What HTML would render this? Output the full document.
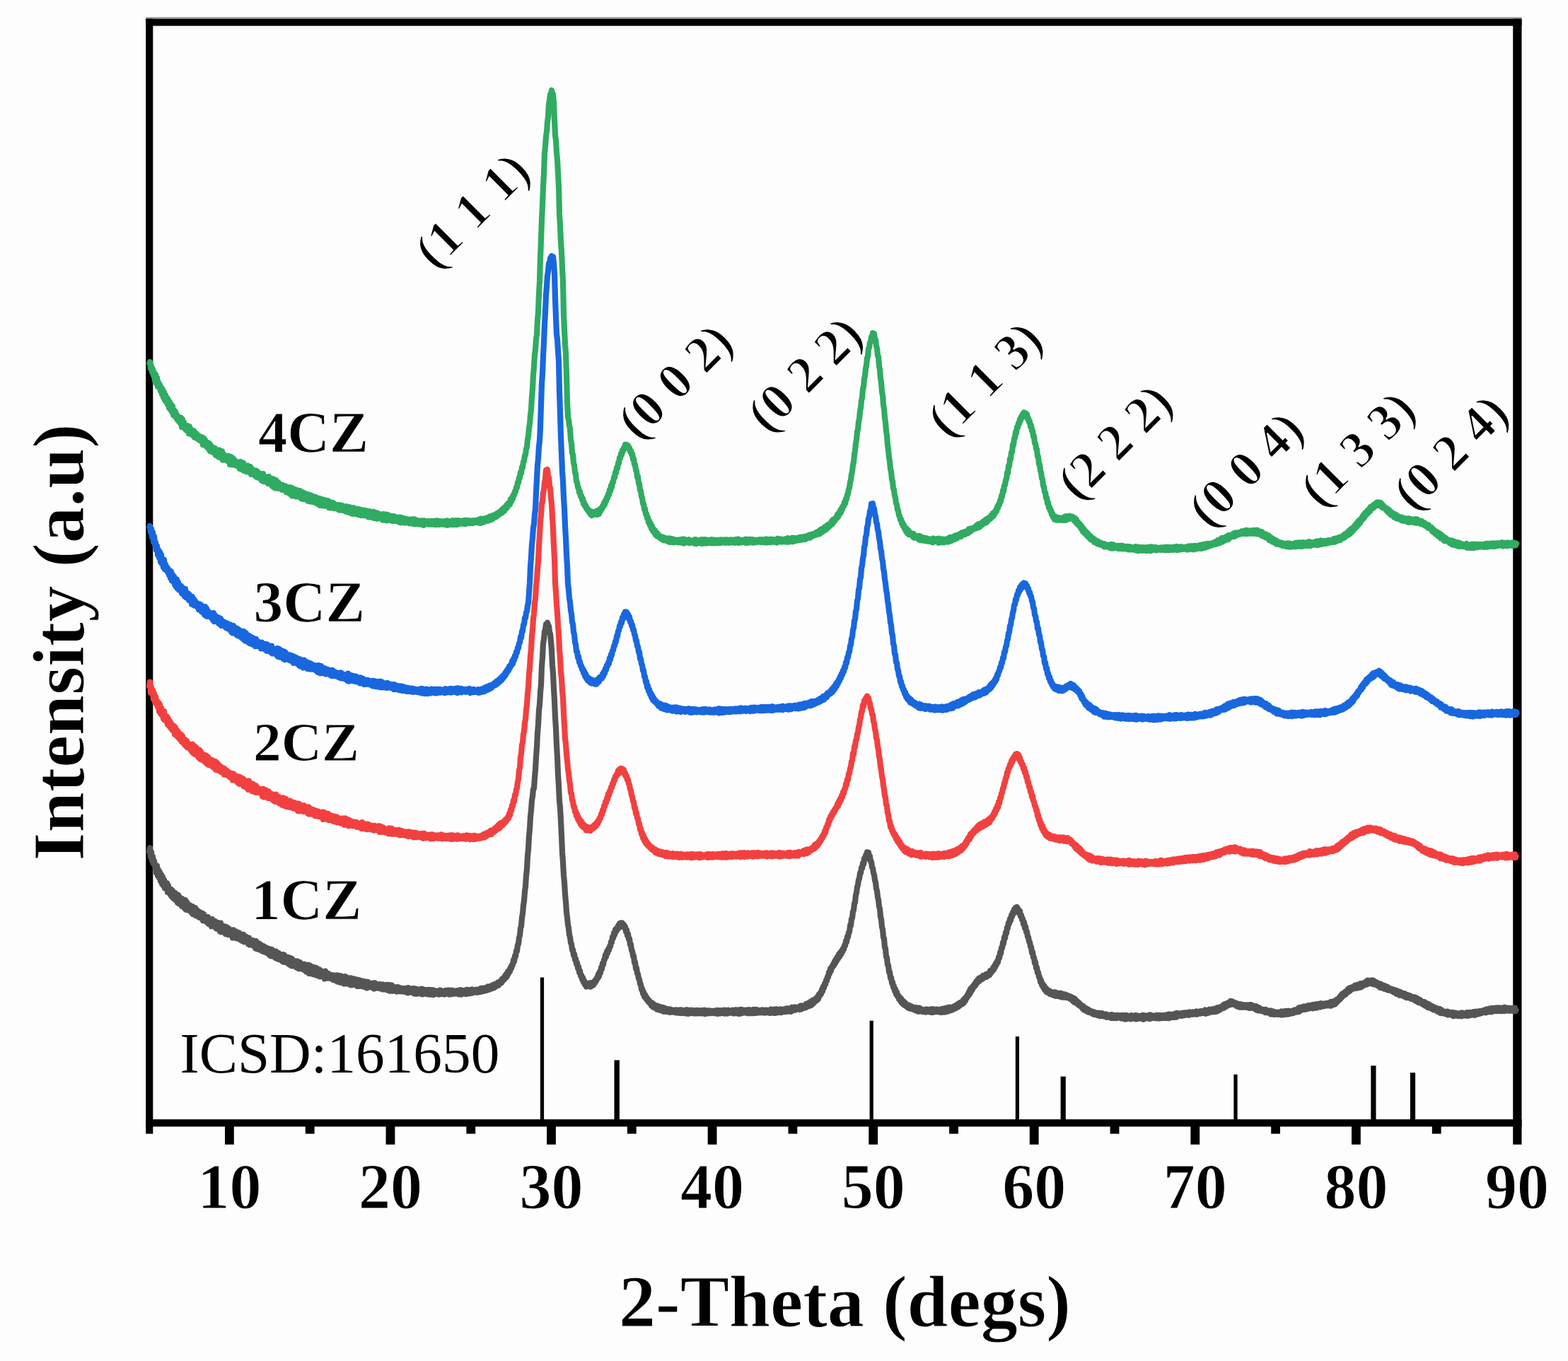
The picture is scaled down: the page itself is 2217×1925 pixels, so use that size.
<!DOCTYPE html>
<html lang="en"><head><meta charset="utf-8"><title>XRD patterns of 1CZ-4CZ</title>
<style>html,body{margin:0;padding:0;background:#fdfdfd;overflow:hidden;}svg{display:block}text{font-family:"Liberation Serif",serif;fill:#000}.b{font-weight:bold;stroke:#fdfdfd;stroke-width:1px}.p{stroke-width:1.8px}</style></head><body>
<svg width="2217" height="1925" viewBox="0 0 2217 1925">
<rect x="0" y="0" width="2217" height="1925" fill="#fdfdfd"/>
<g id="frame"><rect x="206.2" y="24.2" width="1945.3" height="2.4" fill="#9b9ba6"/><rect x="206.2" y="26.6" width="1945.3" height="10.0" fill="#000"/><rect x="206.2" y="26.6" width="10.1" height="1577.0" fill="#000"/><rect x="2139.2" y="26.6" width="12.3" height="1592.2" fill="#000"/><rect x="206.2" y="1583.2" width="1945.3" height="10.3" fill="#000"/><rect x="318.0" y="1592.5" width="12.8" height="26.3" fill="#000"/><rect x="545.6" y="1592.5" width="12.8" height="26.3" fill="#000"/><rect x="773.1" y="1592.5" width="12.8" height="26.3" fill="#000"/><rect x="1000.7" y="1592.5" width="12.8" height="26.3" fill="#000"/><rect x="1228.3" y="1592.5" width="12.8" height="26.3" fill="#000"/><rect x="1455.8" y="1592.5" width="12.8" height="26.3" fill="#000"/><rect x="1683.4" y="1592.5" width="12.8" height="26.3" fill="#000"/><rect x="1911.0" y="1592.5" width="12.8" height="26.3" fill="#000"/><rect x="431.8" y="1592.5" width="12.8" height="11.1" fill="#000"/><rect x="659.4" y="1592.5" width="12.8" height="11.1" fill="#000"/><rect x="886.9" y="1592.5" width="12.8" height="11.1" fill="#000"/><rect x="1114.5" y="1592.5" width="12.8" height="11.1" fill="#000"/><rect x="1342.1" y="1592.5" width="12.8" height="11.1" fill="#000"/><rect x="1569.6" y="1592.5" width="12.8" height="11.1" fill="#000"/><rect x="1797.2" y="1592.5" width="12.8" height="11.1" fill="#000"/><rect x="2024.8" y="1592.5" width="12.8" height="11.1" fill="#000"/></g>
<g id="ref"><rect x="763.9" y="1382.5" width="5.2" height="201.7" fill="#000"/><rect x="868.5" y="1499.5" width="7.4" height="84.7" fill="#000"/><rect x="1229.6" y="1443.7" width="5.2" height="140.5" fill="#000"/><rect x="1435.8" y="1466" width="5.2" height="118.2" fill="#000"/><rect x="1499.6" y="1522.6" width="7.2" height="61.6" fill="#000"/><rect x="1744.4" y="1519.7" width="5.2" height="64.5" fill="#000"/><rect x="1938.3" y="1507.3" width="7.2" height="76.9" fill="#000"/><rect x="1993.9" y="1517.2" width="7.2" height="67.0" fill="#000"/></g>
<g id="curves">
<path d="M211.0 1207.3l1 -7.9l1 12.9l1 -7.2l1 12.6l1 -6.1l1 10.1l1 -4.3l1 8.3l1 -2.4l1 11.4l1 -10.2l1 14.1l1 -8.3l1 11l1 -7.7l1 12.7l1 -9.1l1 13l1 -9.9l1 12.4l1 -8.5l1 11.9l1 -6.6l1 7.4l1 -7.9l1 12.9l1 -9.4l1 10.3l1 -5.7l1 8.5l1 -7.9l1 10.6l1 -8.5l1 10.5l1 -8.1l1 9.8l1 -8.8l1 10.2l1 -8l1 11.2l1 -10.7l1 12.3l1 -9.1l1 9.6l1 -8.5l1 11.4l1 -9.9l1 9.6l1 -7.2l1 10.4l1 -11.3l1 13.4l1 -10.7l1 11.3l1 -8.1l1 8.2l1 -7.3l1 8.7l1 -7.3l1 9.5l1 -8.8l1 11.1l1 -9.5l1 9.9l1 -9.4l1 11l1 -8.3l1 8.2l1 -6.9l1 8.8l1 -7.3l1 8.3l1 -6.1l1 6.8l1 -7.2l1 10.7l1 -9.1l1 8.5l1 -5.2l1 6.7l1 -6l1 7.7l1 -7.8l1 9.9l1 -6.5l1 5.5l1 -4.8l1 9.1l1 -10.1l1 8.7l1 -5.7l1 6.9l1 -7.2l1 9.7l1 -8.2l1 9.4l1 -8.7l1 8.3l1 -5.6l1 9.7l1 -11.8l1 12.8l1 -8.9l1 8l1 -7.5l1 8.2l1 -7.9l1 10.9l1 -10l1 10l1 -8.6l1 9.6l1 -8.4l1 8l1 -5.4l1 6.2l1 -5.9l1 9.8l1 -11.1l1 9.8l1 -7.7l1 9.2l1 -9.1l1 9.5l1 -8l1 8.7l1 -8.4l1 7.8l1 -5.1l1 7.8l1 -8.2l1 9.3l1 -9.2l1 10.4l1 -8.4l1 8.4l1 -7.4l1 7.5l1 -5.1l1 7.8l1 -8.4l1 9.9l1 -7.3l1 5.8l1 -4.9l1 6.8l1 -6.6l1 7.4l1 -4.9l1 8.3l1 -10l1 11l1 -8.3l1 8l1 -7.4l1 9l1 -7.9l1 7.1l1 -4.6l1 7.4l1 -7.5l1 8.2l1 -7l1 6.9l1 -5.8l1 7.4l1 -6.5l1 7.3l1 -6.5l1 8.8l1 -8.4l1 9.8l1 -9.2l1 9.6l1 -7.9l1 7.9l1 -6.5l1 8.5l1 -8.9l1 10.1l1 -8.2l1 8.9l1 -8.4l1 9.2l1 -7.5l1 7.9l1 -6.7l1 8.4l1 -9.2l1 10.6l1 -9.8l1 10l1 -6.7l1 6.5l1 -6.9l1 8.4l1 -8.1l1 10.1l1 -9.4l1 10.5l1 -9.6l1 10.6l1 -8.8l1 8.2l1 -6.7l1 7l1 -6.1l1 8.4l1 -8.9l1 9.7l1 -8.5l1 9.6l1 -9.2l1 9.2l1 -6.9l1 6.5l1 -5.4l1 7.1l1 -7.9l1 8.8l1 -8.2l1 10.1l1 -9.3l1 9.6l1 -9.8l1 12.1l1 -11.2l1 9l1 -6.5l1 9.2l1 -9.8l1 10.6l1 -9.6l1 9.7l1 -9.6l1 10.7l1 -9.9l1 9.7l1 -7.3l1 8.8l1 -9.2l1 9.8l1 -8.1l1 7.5l1 -6.3l1 6.8l1 -6l1 9.3l1 -11l1 9.1l1 -6.1l1 7l1 -6.7l1 6.6l1 -4.9l1 5.3l1 -5l1 5.2l1 -4l1 5.9l1 -6.4l1 6.8l1 -5.8l1 6.3l1 -7.3l1 9l1 -9l1 7l1 -4.5l1 7.6l1 -9.3l1 9.1l1 -7.7l1 8.9l1 -9l1 9.9l1 -10.4l1 9.5l1 -8.4l1 9.1l1 -8.2l1 8.3l1 -7.3l1 8.7l1 -9.5l1 10l1 -8.7l1 8.4l1 -8.7l1 8.1l1 -5.4l1 5.6l1 -7.2l1 9.5l1 -8.8l1 8.9l1 -8.8l1 8.3l1 -7.1l1 7.4l1 -7.5l1 7.7l1 -7.2l1 8l1 -7.5l1 8l1 -7.2l1 8.4l1 -8.8l1 7.1l1 -5.1l1 5.1l1 -4.9l1 5.4l1 -5.6l1 6.4l1 -5.9l1 7.3l1 -8.3l1 6.6l1 -4.2l1 4.4l1 -4.6l1 5.3l1 -5.6l1 5.8l1 -5.6l1 6.2l1 -5.4l1 6.2l1 -6.8l1 6.8l1 -5.1l1 4.4l1 -5.5l1 7.2l1 -7.4l1 7l1 -5.4l1 7.2l1 -8.5l1 8.3l1 -7.9l1 8.1l1 -5.9l1 5.4l1 -4.9l1 4.7l1 -4.4l1 5.9l1 -6.4l1 6l1 -5.6l1 5.6l1 -4.4l1 4.3l1 -4l1 4.4l1 -4.3l1 4.4l1 -4.4l1 4.6l1 -4.6l1 5.5l1 -6.3l1 7l1 -7.1l1 6.6l1 -5.3l1 4.5l1 -3.2l1 3.3l1 -5l1 7l1 -6.9l1 7.4l1 -6.9l1 7.1l1 -6.8l1 5.9l1 -4.8l1 4.9l1 -4.5l1 4.1l1 -5.9l1 7.7l1 -7.4l1 5.8l1 -4.5l1 5.2l1 -5.4l1 5.3l1 -5.2l1 6.2l1 -6.4l1 6.5l1 -6.4l1 6.6l1 -6.5l1 6.4l1 -6.4l1 6.8l1 -6.1l1 5.5l1 -4.8l1 3.9l1 -3.8l1 3.7l1 -3.7l1 4.9l1 -6l1 5.4l1 -5l1 5.1l1 -4.2l1 3l1 -2.9l1 4.6l1 -5.6l1 4.3l1 -3.3l1 3l1 -4.6l1 6.2l1 -5.7l1 5.3l1 -5.5l1 5.5l1 -5.3l1 4.6l1 -4l1 4l1 -3.2l1 2.5l1 -3.6l1 4.5l1 -4.1l1 4.8l1 -6l1 6l1 -6.2l1 6.4l1 -5.3l1 3.8l1 -4l1 3.7l1 -3.7l1 4.9l1 -6.1l1 5.7l1 -5.5l1 5.1l1 -5.1l1 5l1 -5.2l1 4.8l1 -5.2l1 4.7l1 -4l1 3.2l1 -3.1l1 2.7l1 -3.3l1 4.1l1 -3.9l1 2.4l1 -2.8l1 3.6l1 -5.3l1 4.7l1 -4.8l1 4.3l1 -4.3l1 3.8l1 -4l1 3.5l1 -4l1 3.6l1 -5.3l1 4.6l1 -4.3l1 3.5l1 -4l1 3.3l1 -4.8l1 4.2l1 -4.9l1 4l1 -5.1l1 3.7l1 -3.9l1 2.6l1 -4.6l1 4l1 -4.5l1 2l1 -3.9l1 3.1l1 -5.7l1 2.9l1 -4.2l1 2.2l1 -5.3l1 3l1 -5.6l1 3.4l1 -6.6l1 2.8l1 -5.3l1 2.1l1 -5.8l1 1.5l1 -5.2l1 0.1l1 -6.7l1 2.2l1 -7.9l1 0.7l1 -7.9l1 0.2l1 -8.9l1 -1l1 -9.1l1 -3l1 -10.4l1 -2.6l1 -12.4l1 -5.5l1 -11.7l1 -6.4l1 -12.8l1 -7.5l1 -15.6l1 -8.8l1 -18.6l1 -9.4l1 -18.4l1 -10.4l1 -17.9l1 -8.8l1 -13.9l1 -5.6l1 -10.4l1 -0.9l1 -15l1 -11.6l1 -17.6l1 -14.2l1 -19.9l1 -11.9l1 -20.2l1 -8.1l1 -17l1 -10.8l1 -26.2l1 -13l1 -19.4l1 -6.2l1 -10.6l1 -2.7l1 -7.7l1 0.7l1 -3.1l1 4.5l1 0.3l1 8.8l1 2.1l1 11.3l1 12l1 21.3l1 11.6l1 21.6l1 16.8l1 23.3l1 15.9l1 23.9l1 16.5l1 25l1 15.8l1 22.2l1 8.7l1 19l1 20.7l1 23.7l1 13.6l1 18.5l1 10.1l1 16.8l1 10.7l1 14.6l1 7.9l1 10.3l1 4.5l1 9.6l1 3.1l1 8.1l1 1.8l1 8l1 -0.4l1 8.1l1 -1.5l1 7.7l1 -1.3l1 7.3l1 -1.9l1 8l1 -2.1l1 8l1 -2.2l1 7.2l1 -1l1 5.8l1 -2.4l1 6.6l1 -2.5l1 5.9l1 -2.7l1 5.6l1 -4.4l1 3.7l1 -3l1 2.8l1 -4.2l1 5.3l1 -5.6l1 4.4l1 -4.7l1 3.7l1 -5.2l1 2.4l1 -4.6l1 1.5l1 -4.9l1 1.3l1 -6l1 3l1 -6.7l1 1.8l1 -7.5l1 1.8l1 -7.8l1 1.6l1 -6.7l1 -0.3l1 -6.6l1 2.6l1 -7.4l1 2.5l1 -5.7l1 1.4l1 -5.4l1 0.1l1 -6.5l1 0.8l1 -7.7l1 1.9l1 -7.5l1 2.7l1 -7.4l1 3.1l1 -5.2l1 2.1l1 -5.5l1 3.2l1 -6.2l1 5l1 -6.2l1 4.2l1 -4l1 3.6l1 -1.5l1 4.5l1 -1.5l1 7.2l1 -2.7l1 7.8l1 -2l1 7.4l1 -0.7l1 8.3l1 -0.1l1 8.5l1 0.6l1 7.4l1 -0.3l1 9.3l1 -0.6l1 9.2l1 -1l1 7.8l1 1l1 6.4l1 0.9l1 6.6l1 0.6l1 7.1l1 -1l1 6.8l1 -2.3l1 6.5l1 -2.7l1 5.5l1 -2.1l1 4.7l1 -1.9l1 4.4l1 -1.9l1 3.8l1 -1.8l1 4.8l1 -3.9l1 5.8l1 -4.1l1 5.1l1 -3.6l1 4.3l1 -2.9l1 4.8l1 -4.9l1 5.3l1 -4.5l1 5.1l1 -3.7l1 4.2l1 -4.4l1 5.3l1 -4.9l1 5.7l1 -5.1l1 4.8l1 -3.6l1 4.1l1 -3.2l1 2.6l1 -3.1l1 4.6l1 -4.3l1 4l1 -3.2l1 3l1 -2.7l1 3.1l1 -3l1 2.8l1 -3.2l1 4.2l1 -4l1 3.1l1 -2.3l1 3.5l1 -4.6l1 4.8l1 -4.5l1 4.2l1 -3.7l1 3.2l1 -3.2l1 4.3l1 -5.1l1 5.1l1 -5.1l1 5.6l1 -4.9l1 3.6l1 -3.7l1 4.2l1 -4.4l1 3.9l1 -2.9l1 3.6l1 -4.1l1 4l1 -3.7l1 3.8l1 -4.4l1 4.5l1 -4.2l1 3.6l1 -3l1 3.5l1 -4.2l1 4.3l1 -3.3l1 2.6l1 -3.9l1 5.3l1 -5l1 4.2l1 -3.4l1 3.5l1 -4.1l1 3.8l1 -3.5l1 3.5l1 -3.2l1 2.8l1 -2.8l1 3.2l1 -3.5l1 3.5l1 -3.4l1 3.7l1 -4.5l1 5l1 -4.8l1 4.5l1 -4.3l1 3.9l1 -3.9l1 3.6l1 -3l1 2.9l1 -4l1 4.9l1 -4.9l1 4.4l1 -4.1l1 4.4l1 -4.8l1 4l1 -2.9l1 2.7l1 -2.8l1 2.6l1 -3.6l1 4.6l1 -4.1l1 4.1l1 -5l1 4.8l1 -4.5l1 4.8l1 -5l1 5.5l1 -5.4l1 5.2l1 -5.9l1 5.3l1 -4.9l1 4.1l1 -2.8l1 2.9l1 -3.6l1 3.6l1 -3.6l1 4.4l1 -4.9l1 5l1 -5.1l1 4.9l1 -4.3l1 4.4l1 -4.8l1 4.8l1 -5.2l1 4.9l1 -4.5l1 4.4l1 -4.8l1 4.5l1 -3.7l1 3.6l1 -3.1l1 2.8l1 -3.2l1 3.3l1 -3.7l1 3.4l1 -3.1l1 3.8l1 -3.9l1 3.7l1 -3.6l1 3.3l1 -3.1l1 2.7l1 -2.8l1 4l1 -5.3l1 4.7l1 -3.8l1 3.9l1 -4.7l1 5.2l1 -5l1 4.9l1 -5.6l1 4.8l1 -4l1 4l1 -4l1 3.8l1 -4.4l1 4.8l1 -4.3l1 2.6l1 -2.7l1 3l1 -3.5l1 3.8l1 -4.6l1 4.2l1 -4.4l1 4.3l1 -3.9l1 2.6l1 -2.6l1 4l1 -6l1 4.1l1 -3.2l1 3.2l1 -4.3l1 4l1 -3.6l1 2.8l1 -3l1 2.5l1 -3.1l1 3.8l1 -5.2l1 4.8l1 -5l1 4.1l1 -4l1 2.3l1 -3l1 3.4l1 -5.4l1 4.5l1 -5.1l1 4l1 -5.2l1 4.7l1 -5.9l1 5l1 -6l1 4.5l1 -6l1 3.8l1 -4.2l1 2.3l1 -4.5l1 3.1l1 -5.3l1 3.4l1 -6.7l1 2.6l1 -4.7l1 1.8l1 -6.3l1 2.4l1 -6.6l1 1.9l1 -5.9l1 1.2l1 -6l1 0.2l1 -5.3l1 0.5l1 -6.7l1 1.9l1 -7.2l1 3.1l1 -5.8l1 0.9l1 -4.4l1 1.9l1 -5.8l1 2.5l1 -5.9l1 2.6l1 -5.7l1 2.5l1 -6l1 3.6l1 -6.3l1 3l1 -5.4l1 1.9l1 -5.2l1 1.3l1 -5.7l1 0.5l1 -6.7l1 1.4l1 -7.5l1 0.6l1 -6.9l1 -0.3l1 -9.4l1 0.2l1 -9.8l1 -1l1 -8.9l1 -2.4l1 -8.8l1 -2l1 -10.2l1 -3.1l1 -8.4l1 -2.6l1 -7.4l1 -1.9l1 -7.7l1 -0.1l1 -7.3l1 0.8l1 -7.5l1 1.9l1 -8.4l1 1.8l1 -6.3l1 0l1 -4.5l1 3l1 -2.6l1 5.3l1 0.1l1 7l1 0.7l1 7.9l1 1.1l1 7.2l1 2l1 8l1 2.8l1 8.9l1 3.2l1 9.1l1 3.7l1 9.5l1 3.2l1 11.2l1 3.8l1 10.9l1 3.1l1 11.5l1 1.6l1 12.5l1 1.5l1 11.8l1 1.4l1 9.9l1 0.5l1 9.8l1 -0.2l1 8.4l1 -0.5l1 7.5l1 -1l1 7l1 -1.5l1 6.7l1 -2.3l1 7.3l1 -3.1l1 5.9l1 -1.4l1 5.4l1 -3l1 5.4l1 -3.5l1 6.3l1 -3.7l1 5.8l1 -3.6l1 4.9l1 -3.3l1 4.6l1 -2.5l1 4l1 -3.1l1 4.4l1 -3.9l1 4.7l1 -3.6l1 3.5l1 -2.4l1 3.5l1 -3l1 3.6l1 -3l1 4l1 -4.1l1 4.9l1 -3.9l1 4.7l1 -5.2l1 4.4l1 -2.1l1 2.5l1 -2.8l1 3.5l1 -3l1 2.7l1 -2.5l1 3.3l1 -4.1l1 3.3l1 -2.8l1 3l1 -3.1l1 3.4l1 -3.6l1 4l1 -4.5l1 4.7l1 -4.6l1 3.9l1 -3.3l1 3.2l1 -3.3l1 3.1l1 -3.2l1 3.5l1 -3.1l1 3.5l1 -3.8l1 4.1l1 -5.1l1 4.9l1 -5.1l1 4.6l1 -4.8l1 5.1l1 -5.8l1 5.1l1 -5.3l1 5.1l1 -6l1 5l1 -4.5l1 3.8l1 -4.3l1 3.6l1 -4.4l1 3.3l1 -4.3l1 3.4l1 -4.3l1 3.1l1 -4.5l1 3.6l1 -5l1 3.5l1 -4.8l1 2.9l1 -3.6l1 2.9l1 -5.7l1 4.1l1 -6l1 3.2l1 -5.2l1 1.4l1 -4.9l1 1.9l1 -5.9l1 3.6l1 -7.5l1 4.1l1 -6.2l1 2.8l1 -5l1 1.5l1 -4.2l1 2.3l1 -5.7l1 2.5l1 -4.7l1 2.5l1 -5l1 3.7l1 -4.6l1 2.4l1 -3.5l1 3l1 -5.1l1 3.5l1 -3.7l1 2.5l1 -3.9l1 3.5l1 -3.9l1 2l1 -3.3l1 2.9l1 -6.2l1 3.3l1 -4.2l1 1.6l1 -4.8l1 2.8l1 -5.8l1 2.3l1 -5.7l1 1.9l1 -5.2l1 1.6l1 -7.2l1 1.4l1 -8l1 1.9l1 -8.5l1 0l1 -7.5l1 1.4l1 -8.9l1 1.6l1 -8.4l1 1.3l1 -8.2l1 0.2l1 -7l1 1.4l1 -6.8l1 2.3l1 -7.3l1 1.9l1 -6.2l1 2.1l1 -6l1 3.4l1 -6.1l1 4.2l1 -5l1 4.6l1 -1.4l1 5.2l1 -3l1 7.5l1 -1.6l1 6.4l1 -1.4l1 7.7l1 -2.7l1 8.3l1 -2.4l1 7.7l1 -0.2l1 7.2l1 0.5l1 6.5l1 0.5l1 6.6l1 0.4l1 8l1 -0.9l1 7.8l1 0l1 7.6l1 -0.9l1 8.1l1 -0.8l1 7.3l1 -0.1l1 6.3l1 0l1 6.9l1 -2.4l1 6.8l1 -2l1 5.5l1 -3l1 6.1l1 -3l1 5.6l1 -3.6l1 5l1 -2.6l1 3.4l1 -3l1 4.5l1 -3.2l1 2.9l1 -2l1 3.6l1 -3.8l1 4.7l1 -4.9l1 5.5l1 -4.3l1 3.4l1 -3.1l1 4.4l1 -4.2l1 4.7l1 -5l1 5.5l1 -4.7l1 5.1l1 -3.8l1 2.9l1 -3.3l1 4.4l1 -3.7l1 3.6l1 -2.5l1 3.3l1 -2.7l1 3.9l1 -3l1 4.1l1 -3.2l1 5.1l1 -4.2l1 6.2l1 -4.9l1 5.2l1 -2.7l1 4.4l1 -2.8l1 4.5l1 -2.8l1 4l1 -1.9l1 3.6l1 -1.9l1 4.4l1 -3.7l1 5.4l1 -2.9l1 3.6l1 -3l1 4.4l1 -3.2l1 4.2l1 -3l1 3.4l1 -2.3l1 3.1l1 -2.3l1 3.5l1 -3l1 3.7l1 -3.1l1 3.2l1 -2.4l1 3.3l1 -2.9l1 3.3l1 -3.3l1 4.2l1 -3.7l1 3.8l1 -4l1 3.7l1 -2.2l1 3l1 -3l1 3l1 -3.2l1 4.4l1 -3.4l1 3l1 -2.7l1 3.2l1 -3.3l1 4.3l1 -4.8l1 4.7l1 -4l1 4.3l1 -3.8l1 3.4l1 -3.3l1 3.7l1 -4.3l1 3.6l1 -2.4l1 2.4l1 -3.2l1 4.1l1 -4l1 4.3l1 -4.6l1 3.8l1 -2.6l1 4.3l1 -5.6l1 5.4l1 -5l1 4.5l1 -3.4l1 2.7l1 -2.5l1 3.7l1 -5.2l1 4.4l1 -3.5l1 3.4l1 -3.6l1 4.2l1 -5l1 5.4l1 -4.8l1 4.3l1 -4l1 3.5l1 -2.9l1 3l1 -3.6l1 4.1l1 -5.2l1 6l1 -5.4l1 4.2l1 -4.1l1 3.3l1 -2.6l1 2.8l1 -3.9l1 4.7l1 -5.3l1 5.3l1 -5.1l1 4l1 -2.8l1 2.9l1 -2.9l1 2.9l1 -3.4l1 3.8l1 -4.4l1 4.4l1 -4.3l1 4.6l1 -4.5l1 4l1 -3.8l1 3.9l1 -3.3l1 2.5l1 -3.4l1 4l1 -4l1 4.1l1 -4.7l1 4.5l1 -5l1 5.3l1 -5.6l1 4.9l1 -4.3l1 3.5l1 -3.7l1 4l1 -4.5l1 4.4l1 -5.1l1 5l1 -5.8l1 4.9l1 -4.3l1 3.3l1 -3.3l1 2.7l1 -2.8l1 3.4l1 -4.1l1 3.6l1 -3.7l1 3.4l1 -3.5l1 2.9l1 -3.1l1 3l1 -3.2l1 3.6l1 -4.3l1 3.7l1 -3.2l1 2.7l1 -2.9l1 3l1 -3.3l1 2.8l1 -2.6l1 3l1 -4.1l1 4l1 -3.3l1 2.4l1 -3l1 3l1 -3.3l1 2.8l1 -2.8l1 2.6l1 -2.9l1 2.6l1 -4.1l1 5.2l1 -4.3l1 2.8l1 -3.2l1 3.6l1 -4.9l1 4.1l1 -3.7l1 3.3l1 -4.1l1 3.9l1 -4l1 3.5l1 -4.1l1 4.4l1 -5.2l1 4.8l1 -5.5l1 4.4l1 -4.6l1 3.4l1 -4.1l1 2.7l1 -3.8l1 3.1l1 -4.7l1 4l1 -5.3l1 4.1l1 -4.6l1 3.2l1 -4.2l1 2.6l1 -3.5l1 3.6l1 -5.4l1 4.3l1 -4.1l1 4.4l1 -3.5l1 3.6l1 -2.6l1 3.7l1 -2.8l1 4.2l1 -3.8l1 4.6l1 -3.9l1 4.4l1 -4.2l1 4.4l1 -3.8l1 3.6l1 -3.3l1 3.3l1 -3.1l1 3.2l1 -3l1 3.3l1 -3.4l1 3.6l1 -3.7l1 4.5l1 -4.8l1 4.6l1 -4.2l1 4.2l1 -3.1l1 3.6l1 -3.1l1 4.2l1 -4.2l1 5.6l1 -4.4l1 5l1 -4.3l1 4.3l1 -2.6l1 3.1l1 -2.3l1 2.6l1 -2.1l1 3l1 -2.7l1 3.7l1 -4l1 3.8l1 -2.3l1 3l1 -2.4l1 2.8l1 -3.5l1 5.1l1 -4.7l1 4.6l1 -3.7l1 4l1 -3.7l1 3.8l1 -3.1l1 2.7l1 -2.7l1 3.1l1 -3.2l1 2.6l1 -2.4l1 3.5l1 -4.9l1 5.1l1 -4.1l1 3.1l1 -4.2l1 4.6l1 -5l1 4.6l1 -4.4l1 4.6l1 -5l1 4.5l1 -4l1 2.9l1 -3l1 3.3l1 -3.7l1 3.1l1 -4.1l1 3.2l1 -3.4l1 3l1 -3.6l1 2.5l1 -4.4l1 4.9l1 -5.9l1 3.7l1 -3l1 2.7l1 -4.2l1 3.6l1 -4.3l1 4.4l1 -4.3l1 3l1 -3.4l1 3.8l1 -4.8l1 4.2l1 -4.1l1 3.4l1 -4l1 4.4l1 -4.7l1 4.9l1 -5.4l1 4.8l1 -4.6l1 4.6l1 -5.5l1 4.8l1 -4.6l1 4l1 -4.8l1 4.8l1 -5.2l1 4.3l1 -3.8l1 3.6l1 -3.5l1 3.1l1 -3.4l1 2.8l1 -3.3l1 3.4l1 -3.5l1 3.1l1 -3.7l1 4.4l1 -5.7l1 5.4l1 -5l1 3.4l1 -4.7l1 4.6l1 -5.2l1 3.7l1 -5.2l1 3.1l1 -4.2l1 2l1 -4.5l1 2.9l1 -5.3l1 3.1l1 -5.4l1 2.9l1 -3.8l1 2.8l1 -4.7l1 3.1l1 -4.3l1 2.2l1 -4.8l1 3.8l1 -5.3l1 3.7l1 -4.3l1 2.6l1 -3.4l1 2.4l1 -3.1l1 2.2l1 -3.9l1 3.9l1 -4.1l1 4l1 -5l1 4.5l1 -4.8l1 4.4l1 -5.6l1 5.2l1 -4.9l1 3.2l1 -4.1l1 3.1l1 -3.7l1 3l1 -4.9l1 4.4l1 -5.8l1 4.6l1 -3.9l1 2.5l1 -2.8l1 4.2l1 -4.8l1 5.3l1 -4.9l1 5.5l1 -4l1 4.4l1 -3.5l1 4.4l1 -3.3l1 4.2l1 -3l1 4.9l1 -4.9l1 5.7l1 -4.5l1 4.5l1 -3.7l1 4.9l1 -4.2l1 4.6l1 -3.7l1 4.6l1 -3.7l1 4.6l1 -2.9l1 2.7l1 -2.2l1 3.2l1 -2.5l1 3.5l1 -2.9l1 4l1 -3.3l1 4l1 -3.4l1 5.1l1 -4.3l1 4.7l1 -3.7l1 5.1l1 -4.8l1 4.3l1 -2.2l1 3.2l1 -3.2l1 4.1l1 -3.8l1 4.9l1 -3.8l1 4.8l1 -4.3l1 4l1 -3.1l1 3.6l1 -3.1l1 4.2l1 -2.9l1 3l1 -2.4l1 3.8l1 -3.9l1 5.2l1 -4.3l1 5.1l1 -4.2l1 5.5l1 -4.1l1 4.9l1 -3.9l1 3.9l1 -2.2l1 4.1l1 -3.3l1 4.3l1 -4l1 5.4l1 -4.1l1 4.8l1 -3.7l1 5.6l1 -5.1l1 5.2l1 -3.6l1 4.6l1 -3.7l1 4.5l1 -3.4l1 4.7l1 -3.8l1 3.8l1 -2.6l1 3.9l1 -3.1l1 4.3l1 -4l1 4.9l1 -4.6l1 6.1l1 -4.9l1 4.4l1 -2.8l1 3.4l1 -2.5l1 3l1 -2.9l1 3.3l1 -3.5l1 4.7l1 -4.4l1 3.9l1 -2.8l1 3.2l1 -2.7l1 3l1 -3.7l1 5.3l1 -4.8l1 4.3l1 -4.1l1 4l1 -3.2l1 3.4l1 -3.3l1 3.5l1 -3.3l1 2.9l1 -4l1 4.7l1 -4.9l1 4.2l1 -3.2l1 2.9l1 -2.8l1 2.9l1 -4.2l1 4.6l1 -4.3l1 4.1l1 -4.7l1 3.5l1 -2.8l1 2.9l1 -3.8l1 3.7l1 -4.2l1 4.7l1 -4.9l1 4.2l1 -4.5l1 3.8l1 -3.6l1 3.3l1 -4l1 3.4l1 -3.7l1 2.9l1 -3.2l1 2.5l1 -3.1l1 2.5l1 -3l1 3.7l1 -4.8l1 4.3l1 -4.2l1 3.3l1 -4.2l1 4.6l1 -4.7l1 4.8l1 -5.4l1 4.5l1 -4.3l1 4.1l1 -3.3l1 2.5l1 -4l1 4.7l1 -4.6l1 4.3l1 -4.3l1 4.4l1 -4.2l1 4.5l1 -3.7l1 2.3l1 -3.5l1 4.8l1 -5.4l1 5.1l1 -4.2l1 3.7l1 -2.9l1 3l1 -3.7l1 4.1l1 -3.7l1 3.1l1 -3.3l1 3.7l1 -3.5l1 4.1l1 -4.7l1 4.4l1 -3.9" fill="none" stroke="#555555" stroke-width="8.2" stroke-linejoin="round" stroke-linecap="butt"/>
<path d="M211.0 972.9l1 -8.3l1 15.1l1 -7.6l1 9.4l1 -5.3l1 12.6l1 -8l1 11.8l1 -7.4l1 10.5l1 -4.5l1 8.4l1 -6.3l1 12.9l1 -9.8l1 13l1 -8.4l1 10.6l1 -6.2l1 11l1 -10.2l1 12.6l1 -6.4l1 7.3l1 -6.2l1 11.4l1 -8.4l1 10.2l1 -6.9l1 9.5l1 -6.6l1 9l1 -5l1 6.7l1 -6.7l1 11.9l1 -9.2l1 10.5l1 -7.3l1 9.4l1 -6.9l1 8.9l1 -6.3l1 8.5l1 -7.5l1 10.5l1 -7.9l1 9.3l1 -5.8l1 8.5l1 -6.9l1 9l1 -7.5l1 9.3l1 -5.8l1 5.6l1 -4.2l1 7.2l1 -6.6l1 9.3l1 -10.2l1 12.5l1 -10.1l1 11.7l1 -10.2l1 10.9l1 -9.2l1 10.4l1 -8l1 11l1 -10.7l1 12.9l1 -10.6l1 11.6l1 -8.2l1 7l1 -5.4l1 8.7l1 -8.8l1 10.6l1 -9.6l1 11.7l1 -9.8l1 10.9l1 -8.3l1 7.9l1 -6.6l1 8.3l1 -8.1l1 9.9l1 -8.3l1 9.2l1 -8.9l1 11.8l1 -10.3l1 10.9l1 -9.2l1 9.6l1 -7.1l1 8.1l1 -6.6l1 7.9l1 -6.3l1 6.8l1 -6.2l1 9.3l1 -7.7l1 7.4l1 -5.7l1 6.5l1 -5.1l1 6.3l1 -4.8l1 6.6l1 -5.8l1 6.8l1 -5.7l1 9.1l1 -9.2l1 7.9l1 -5.2l1 6.9l1 -6.7l1 8.6l1 -7.6l1 9.6l1 -9.3l1 10.4l1 -9.5l1 9.3l1 -7.5l1 8.4l1 -8.1l1 10.9l1 -7.7l1 6.5l1 -5.1l1 8.2l1 -9.8l1 12.3l1 -12.2l1 12.6l1 -7.7l1 5.6l1 -6.9l1 11.1l1 -10.3l1 8.4l1 -5.2l1 8.3l1 -9.1l1 9.6l1 -6.3l1 5.5l1 -4.6l1 5.4l1 -5l1 6.3l1 -5.1l1 9.1l1 -10.4l1 11.6l1 -10.3l1 9.7l1 -9.2l1 9.6l1 -8.6l1 10.2l1 -9.2l1 8.8l1 -6l1 7l1 -6.7l1 7.9l1 -7l1 8.5l1 -7.5l1 9.1l1 -10.3l1 9.7l1 -7.3l1 8.2l1 -7.4l1 9.6l1 -7.7l1 7.5l1 -7.1l1 9.6l1 -10.3l1 11.1l1 -9.8l1 10.3l1 -10.1l1 11l1 -8l1 7.1l1 -6.5l1 8.2l1 -9l1 9.1l1 -7.1l1 7.9l1 -8l1 8.8l1 -8.1l1 8.4l1 -7.5l1 6.9l1 -4.9l1 8.7l1 -10.3l1 10.8l1 -9.4l1 8.8l1 -7l1 6l1 -5.2l1 7.5l1 -8.8l1 8l1 -5.3l1 5.9l1 -6l1 8.1l1 -8.5l1 10.1l1 -8.4l1 8.4l1 -7.2l1 6.9l1 -5.4l1 5.8l1 -6.1l1 8.2l1 -7.3l1 7.8l1 -6.7l1 6.8l1 -6.7l1 7.3l1 -6.1l1 6.2l1 -5.4l1 6l1 -7l1 10.4l1 -10.2l1 9.6l1 -7.8l1 7.7l1 -6.9l1 7.5l1 -8.2l1 9.4l1 -6.9l1 6.4l1 -6.4l1 6.8l1 -5l1 6.5l1 -7.1l1 7.6l1 -6.7l1 7.4l1 -7.4l1 8l1 -6.6l1 6l1 -4.8l1 6.1l1 -6.4l1 7.1l1 -5.6l1 5.1l1 -6.7l1 9.2l1 -9.4l1 8.2l1 -5.5l1 6.8l1 -7.8l1 9.3l1 -8.2l1 7.7l1 -6.4l1 6.2l1 -5.8l1 6.3l1 -5.7l1 5.2l1 -4.1l1 4.9l1 -5.6l1 7l1 -5.4l1 5l1 -4.7l1 5.5l1 -5.5l1 7.1l1 -8.8l1 9.1l1 -7.2l1 6.2l1 -5.3l1 6.2l1 -6.3l1 7.4l1 -7.5l1 6.8l1 -5.2l1 5l1 -4.9l1 6l1 -5.3l1 5.6l1 -5.7l1 6.8l1 -6.9l1 5.6l1 -4l1 4.6l1 -5.1l1 6.3l1 -7l1 8.7l1 -8.2l1 8.2l1 -6.7l1 6.5l1 -6.3l1 6.5l1 -5l1 5.4l1 -4.3l1 4l1 -4.1l1 6.1l1 -7.5l1 7.6l1 -7.3l1 7.5l1 -7.6l1 8.1l1 -6.5l1 5.9l1 -5.1l1 5.5l1 -5.4l1 5.1l1 -4.5l1 5.3l1 -6.4l1 7.6l1 -6.3l1 6.1l1 -6.1l1 5.8l1 -4.7l1 4.8l1 -4.5l1 5.1l1 -4.7l1 4.7l1 -4.8l1 6.2l1 -6.6l1 6.5l1 -6.1l1 5.3l1 -3.4l1 3.8l1 -5l1 6.9l1 -6.6l1 6.5l1 -6.3l1 6.2l1 -5.5l1 4.9l1 -4.1l1 4.3l1 -3.9l1 4.2l1 -4.9l1 5.9l1 -5.4l1 6.2l1 -7.1l1 5.7l1 -4l1 4.8l1 -4.3l1 3.7l1 -3.7l1 3.9l1 -4.1l1 5.7l1 -6l1 5.4l1 -5.3l1 5.8l1 -4.9l1 3.7l1 -3.7l1 3.9l1 -3.6l1 3.9l1 -4.1l1 4.1l1 -4.2l1 4.3l1 -5.3l1 6l1 -4.8l1 4.4l1 -4.3l1 4l1 -3.5l1 3.9l1 -4.3l1 4.2l1 -3.6l1 3.3l1 -4.2l1 5l1 -4.9l1 5.4l1 -5.8l1 5.2l1 -4.3l1 4.3l1 -3.9l1 3.6l1 -4.4l1 5.1l1 -5.3l1 4.7l1 -3.7l1 3.5l1 -3.1l1 2.9l1 -2.9l1 3.1l1 -3.8l1 4.2l1 -4.1l1 4.5l1 -5.4l1 4.7l1 -3.5l1 3.8l1 -4.6l1 5.5l1 -4.1l1 2.9l1 -2.9l1 3.6l1 -4.8l1 5l1 -5.1l1 4.8l1 -3.7l1 2.7l1 -2.8l1 3l1 -3l1 2.7l1 -3.5l1 3.1l1 -3.7l1 2.9l1 -4.5l1 4.6l1 -4.9l1 3.6l1 -4.7l1 3.4l1 -4.5l1 3.1l1 -3.9l1 3.2l1 -5.2l1 5.3l1 -5l1 2.1l1 -3.5l1 3l1 -5.1l1 3.5l1 -4.9l1 3l1 -5.3l1 4.6l1 -6.5l1 5l1 -6.7l1 4.4l1 -4.7l1 3.2l1 -4.7l1 2.5l1 -4.7l1 2.6l1 -4.6l1 1.7l1 -4.1l1 1.7l1 -6.8l1 2.8l1 -8.2l1 1.9l1 -7.9l1 0.8l1 -8.2l1 1.9l1 -9.4l1 -0.1l1 -7.5l1 -2l1 -8.7l1 -4l1 -12.6l1 -3.3l1 -15.3l1 -4l1 -13.4l1 -3.1l1 -11.8l1 -3.4l1 -12.7l1 -4.8l1 -13.8l1 -7.1l1 -14.5l1 -11.1l1 -16.4l1 -10.2l1 -17.2l1 -8.9l1 -19l1 -8.4l1 -16.1l1 -6.6l1 -14.8l1 -6.7l1 -17.4l1 -9l1 -15.3l1 -10.5l1 -22.8l1 -15.1l1 -19.5l1 -9.2l1 -15.4l1 -2.9l1 -13.3l1 -2.6l1 -10.9l1 -5.3l1 -12.5l1 0.4l1 -1.3l1 8.8l1 2.6l1 12.3l1 3l1 13l1 8.9l1 19.1l1 15.8l1 24.3l1 17.7l1 34.9l1 12.9l1 17.3l1 11.8l1 18.6l1 12.6l1 20.5l1 12.8l1 19.5l1 9.2l1 17.5l1 9.2l1 22.8l1 16.8l1 18.5l1 7.4l1 15.3l1 8.1l1 12.1l1 6.2l1 11l1 4.5l1 12.1l1 0.9l1 9.1l1 1.9l1 7.9l1 -0.4l1 7.6l1 -1.2l1 6.8l1 -2.3l1 7l1 -2.7l1 6.3l1 -2.9l1 6.7l1 -4.5l1 6.8l1 -3.5l1 5.2l1 -3l1 4.5l1 -2.4l1 5.3l1 -5.1l1 5l1 -2.6l1 2.6l1 -3.9l1 4.5l1 -4.3l1 2.1l1 -3.4l1 2.3l1 -4.1l1 2.6l1 -4.4l1 2.5l1 -5.1l1 2.4l1 -5.2l1 0.9l1 -4.5l1 0.9l1 -5.9l1 0.8l1 -6.7l1 1.1l1 -6.9l1 0.4l1 -6l1 1.2l1 -6.5l1 1.5l1 -7.6l1 1.7l1 -5.7l1 0.5l1 -5.8l1 0.5l1 -5.7l1 0.5l1 -5.9l1 0.6l1 -5.5l1 0.8l1 -4l1 1l1 -5.9l1 4.2l1 -6.1l1 3.3l1 -4.7l1 3.5l1 -2.9l1 4.7l1 -3.5l1 6.5l1 -1.6l1 4.7l1 -0.5l1 5.2l1 -0.3l1 5.9l1 1.4l1 6.5l1 1.8l1 7l1 1.4l1 6.6l1 0.8l1 8.5l1 -0.1l1 8.1l1 -1.1l1 7.9l1 0.5l1 7.5l1 -0.4l1 8.4l1 -1.6l1 7.9l1 -1.9l1 7.5l1 -3.5l1 7.2l1 -2.7l1 6.1l1 -2.9l1 5.4l1 -2.1l1 4l1 -1.7l1 3.6l1 -1.6l1 3.8l1 -2.5l1 4.1l1 -2l1 3.4l1 -2.8l1 5l1 -3.8l1 3.8l1 -2.1l1 3.7l1 -3.7l1 4.1l1 -3.3l1 3.7l1 -3.4l1 4.1l1 -3.4l1 3.5l1 -2.6l1 4.2l1 -4.8l1 4.6l1 -4.4l1 5.1l1 -4.1l1 3.9l1 -3.4l1 3.7l1 -3.6l1 4.1l1 -4.7l1 4.6l1 -3.1l1 2.7l1 -3.5l1 4.2l1 -4.4l1 4.3l1 -3.7l1 4.5l1 -5l1 4.6l1 -4.2l1 4.5l1 -4.1l1 3.5l1 -3.1l1 3l1 -3.1l1 3.6l1 -4l1 3.9l1 -3.5l1 3.5l1 -4.2l1 4.8l1 -4.5l1 4.5l1 -5.1l1 4.7l1 -3.8l1 3.5l1 -3.4l1 3.1l1 -3.6l1 3.9l1 -3.6l1 4.5l1 -5.1l1 4.2l1 -3.7l1 4l1 -3.5l1 2.6l1 -2.5l1 2.4l1 -2.7l1 3.4l1 -3.9l1 4.6l1 -5l1 4.5l1 -4.2l1 3.9l1 -3.8l1 4.2l1 -4.5l1 4.3l1 -4l1 3.1l1 -2.6l1 2.5l1 -3.3l1 4l1 -4.1l1 4.1l1 -3.8l1 3.9l1 -4.4l1 4.5l1 -5.1l1 5.2l1 -4.4l1 3.6l1 -4.5l1 5.6l1 -5.2l1 4.1l1 -3.6l1 3.5l1 -3.5l1 3.9l1 -4.6l1 4.7l1 -4.5l1 3.7l1 -3.8l1 3.5l1 -2.7l1 3.4l1 -4.2l1 3.9l1 -3.3l1 2.6l1 -4.2l1 5.7l1 -5.7l1 4.3l1 -3.5l1 4.3l1 -5.4l1 5.8l1 -5.1l1 4.4l1 -4.4l1 4.8l1 -5.2l1 4.6l1 -4l1 3.5l1 -3.4l1 3.1l1 -4l1 5.5l1 -5.3l1 4.2l1 -4.2l1 4.2l1 -3.6l1 4.2l1 -5.4l1 5.2l1 -4.4l1 4.1l1 -3.8l1 3.4l1 -3.2l1 2.9l1 -3l1 3.5l1 -3.4l1 3.2l1 -4.1l1 5.2l1 -4.1l1 2.7l1 -2.9l1 3.4l1 -3.9l1 4.6l1 -4.9l1 4.7l1 -4.2l1 3.8l1 -3.7l1 3.4l1 -3.2l1 2.9l1 -2.4l1 3.5l1 -5.2l1 5.6l1 -4.3l1 2.9l1 -3.2l1 3.7l1 -3.8l1 3.2l1 -2.5l1 2.7l1 -3l1 3.3l1 -4.4l1 4.7l1 -4.7l1 5.1l1 -5.3l1 4l1 -2.7l1 2.9l1 -3.1l1 3.2l1 -4.1l1 4.4l1 -4.4l1 3.6l1 -3.9l1 4.7l1 -5.7l1 3.6l1 -2.9l1 2.3l1 -2.9l1 2.3l1 -3.7l1 4.5l1 -5.4l1 4.4l1 -5l1 5l1 -5.6l1 4.6l1 -4.4l1 2.3l1 -3.1l1 1.6l1 -2.9l1 2.1l1 -3.7l1 2.8l1 -5.8l1 4.4l1 -5.4l1 3l1 -4.6l1 2.2l1 -4.5l1 1.7l1 -4.4l1 1.2l1 -4.6l1 1.2l1 -4.5l1 0.8l1 -5.7l1 2.3l1 -7.3l1 0.8l1 -5.6l1 0.9l1 -7.1l1 1.7l1 -6.1l1 1.7l1 -5.1l1 1.1l1 -4.6l1 1.4l1 -4.7l1 1.3l1 -4.2l1 0.4l1 -5.2l1 2.9l1 -6.8l1 2.6l1 -6.1l1 2.1l1 -6.8l1 2l1 -6.8l1 1.9l1 -6.5l1 -0.2l1 -6.7l1 1.5l1 -8.1l1 0.8l1 -8.9l1 0l1 -7.5l1 -1.9l1 -8l1 -1.5l1 -9.8l1 1.2l1 -10.9l1 0.2l1 -8.9l1 -1.1l1 -7.7l1 -1.9l1 -8.1l1 -2.5l1 -8.2l1 -2.5l1 -8.2l1 -1l1 -8.7l1 1.7l1 -7.8l1 2.5l1 -5.8l1 1l1 -4.3l1 4.7l1 -2.2l1 6.6l1 0.9l1 7.3l1 1l1 7.1l1 1.1l1 9.4l1 2l1 8.9l1 2.9l1 9.7l1 2l1 10l1 4.1l1 9.9l1 4.4l1 10l1 4.2l1 9.7l1 3.8l1 9.6l1 4.1l1 10.3l1 1.5l1 10.6l1 1.2l1 10.7l1 1.2l1 9.4l1 0.5l1 8.7l1 -1.8l1 6.2l1 -0.2l1 4.8l1 -1l1 4.6l1 -1.9l1 5.9l1 -2.3l1 5.8l1 -3l1 5.8l1 -2.5l1 5.6l1 -2.2l1 5.1l1 -2l1 4.3l1 -2.3l1 4.9l1 -4.3l1 5.5l1 -3.9l1 4.6l1 -4.1l1 5.9l1 -3.5l1 2.9l1 -2l1 4.2l1 -5.1l1 4.4l1 -2.4l1 2.8l1 -2.8l1 3.6l1 -3.2l1 3.4l1 -3.3l1 3.3l1 -2.7l1 4l1 -5.1l1 5.8l1 -4.4l1 3.6l1 -2.7l1 2.6l1 -2.5l1 3.5l1 -4.3l1 3.9l1 -3.2l1 3.5l1 -3.7l1 4.2l1 -4.1l1 4.3l1 -4.3l1 4.9l1 -5.4l1 4.8l1 -4.3l1 4.6l1 -4.4l1 3.9l1 -4.9l1 5.3l1 -5.2l1 4.3l1 -3.3l1 3.4l1 -3.6l1 3l1 -4l1 4.7l1 -5l1 4.3l1 -4.4l1 3.7l1 -3.6l1 4.2l1 -5.7l1 5.4l1 -5.7l1 4.9l1 -5.6l1 5.4l1 -6.1l1 4.6l1 -4.7l1 4.3l1 -5.7l1 4.3l1 -5.4l1 4.4l1 -5.3l1 3.6l1 -5l1 4l1 -6l1 3.9l1 -4.9l1 2.8l1 -4.7l1 1.9l1 -5.5l1 2.5l1 -5.9l1 2.1l1 -4.8l1 2.8l1 -7l1 3.5l1 -5l1 1.5l1 -4l1 2.2l1 -4.4l1 1.8l1 -3.7l1 2.7l1 -5.4l1 3.6l1 -5.3l1 4.2l1 -5.7l1 4.1l1 -5.2l1 4.6l1 -5.7l1 4.2l1 -5.5l1 4.8l1 -5.1l1 3.8l1 -5.4l1 3.7l1 -5.3l1 4.4l1 -6.2l1 2.9l1 -4.3l1 1.5l1 -4.6l1 1.1l1 -5.5l1 2.3l1 -6.2l1 1.6l1 -6.1l1 2.4l1 -7.9l1 2.2l1 -8l1 0l1 -6.5l1 -1.1l1 -6.3l1 -0.6l1 -6.9l1 -0.3l1 -6.6l1 -1.1l1 -6.9l1 0.4l1 -6.2l1 -0.2l1 -4.7l1 1l1 -6.3l1 2.2l1 -5.6l1 1.4l1 -4.4l1 1.6l1 -4.7l1 4.1l1 -4.8l1 5.7l1 -4.5l1 6.8l1 -2.8l1 6.8l1 -1.5l1 5.2l1 -0.7l1 6.3l1 -1.7l1 7.1l1 -1.3l1 7.2l1 -0.1l1 7.5l1 0.1l1 6.6l1 0.1l1 7.1l1 -0.3l1 7.5l1 -1.8l1 7.4l1 1l1 6l1 0.3l1 5.9l1 -0.2l1 8.1l1 -1.3l1 7.6l1 -1.3l1 7.6l1 -2.2l1 7l1 -3.1l1 7l1 -2.6l1 6.1l1 -2.8l1 5.6l1 -3l1 4.7l1 -3.2l1 4.2l1 -3.8l1 5.4l1 -3.2l1 2.7l1 -2.2l1 3.4l1 -3.5l1 4l1 -3.5l1 4l1 -2.9l1 3l1 -3.2l1 4.1l1 -4.1l1 4.4l1 -4.5l1 3.8l1 -2.6l1 3l1 -4l1 5.2l1 -4.3l1 3.4l1 -3l1 4.3l1 -4.9l1 3.9l1 -1.9l1 3.1l1 -2.3l1 4.9l1 -2.4l1 3.6l1 -1.3l1 4.1l1 -2.6l1 5.6l1 -4.4l1 6.2l1 -3.7l1 5l1 -3.8l1 6l1 -3.9l1 5.4l1 -2.9l1 4.5l1 -2l1 3.7l1 -2l1 3.4l1 -2.9l1 4.7l1 -3.4l1 5l1 -5.1l1 6.4l1 -5.1l1 5.7l1 -4.7l1 5.4l1 -3.6l1 2.9l1 -2.5l1 3.1l1 -2.7l1 4.1l1 -4.6l1 4.4l1 -4.2l1 4.4l1 -4.3l1 5.5l1 -5l1 4.3l1 -3.9l1 3.9l1 -3.2l1 3.5l1 -3l1 3l1 -4l1 5.1l1 -4.8l1 4.8l1 -5l1 4.9l1 -4.6l1 5.2l1 -3.8l1 2.8l1 -3.4l1 4.1l1 -4.1l1 5.2l1 -5.2l1 4.5l1 -3.7l1 3.9l1 -3.4l1 2.6l1 -2.7l1 3.1l1 -3.3l1 4l1 -4l1 3.3l1 -2.8l1 3.1l1 -2.9l1 3.3l1 -4.7l1 5.7l1 -5.4l1 4.3l1 -2.7l1 3.2l1 -3.7l1 3.9l1 -4.1l1 4.4l1 -3.8l1 2.9l1 -2.9l1 4l1 -5.2l1 4.3l1 -3l1 2.7l1 -3.4l1 4.2l1 -3.5l1 2.6l1 -2.5l1 4.4l1 -5.8l1 4.9l1 -4.2l1 3.8l1 -3.1l1 2.7l1 -2.7l1 2.5l1 -2.5l1 2.5l1 -2.5l1 3l1 -3.4l1 3.3l1 -4l1 4.6l1 -3.9l1 3.1l1 -3.3l1 4l1 -4.9l1 4.7l1 -5.5l1 5.5l1 -4.8l1 4.2l1 -3.4l1 2.7l1 -2.9l1 2.7l1 -3.3l1 4l1 -4.5l1 4.2l1 -4.1l1 3.5l1 -4.1l1 3.8l1 -4.2l1 4.2l1 -4.7l1 3.7l1 -3l1 2.6l1 -3.5l1 3.4l1 -3.8l1 4.1l1 -4.6l1 4.2l1 -4.1l1 3.9l1 -4.4l1 4.1l1 -3.6l1 2.6l1 -4.1l1 5.1l1 -5.3l1 3.7l1 -2.6l1 3.4l1 -4.9l1 4.9l1 -4.3l1 3.5l1 -4.4l1 4.9l1 -5l1 4l1 -3.2l1 4.2l1 -5l1 4.4l1 -4.8l1 4.5l1 -4.9l1 5.4l1 -6l1 5.3l1 -5.3l1 4.9l1 -5.5l1 5.5l1 -4.6l1 3.2l1 -4.4l1 4.7l1 -5.2l1 4.4l1 -4.9l1 3.7l1 -3.4l1 2.7l1 -3.9l1 4.2l1 -4.7l1 4.2l1 -4.4l1 4l1 -5.7l1 4.7l1 -4.3l1 3.6l1 -5.1l1 5l1 -5.2l1 2.9l1 -3.8l1 3l1 -3.6l1 3.3l1 -4.4l1 3.4l1 -3.4l1 2.5l1 -3.8l1 4.1l1 -4l1 4.3l1 -5.7l1 4.8l1 -4.2l1 4.1l1 -4.6l1 4.9l1 -5.5l1 6l1 -5.4l1 4.2l1 -2.6l1 3.1l1 -2.6l1 3.4l1 -3.7l1 5.3l1 -4.1l1 4.1l1 -3.6l1 5l1 -4.9l1 4.8l1 -3.8l1 4l1 -3.4l1 3l1 -3.3l1 3.6l1 -3.1l1 3.7l1 -4.2l1 4.7l1 -4.9l1 5.1l1 -3.9l1 2.6l1 -3l1 4.3l1 -4l1 4.3l1 -4.1l1 5.6l1 -5.4l1 5.8l1 -3.4l1 3.3l1 -2.9l1 4.1l1 -2.8l1 4.6l1 -4.5l1 4.7l1 -3l1 3.3l1 -3l1 4.8l1 -3.8l1 3.3l1 -2.6l1 3.5l1 -3.2l1 4.2l1 -4.2l1 4.5l1 -3l1 3l1 -3.6l1 4.4l1 -4l1 4.2l1 -3.8l1 3.8l1 -3.1l1 2.8l1 -2.7l1 2.4l1 -3.5l1 4.2l1 -4.5l1 4l1 -4.2l1 4l1 -4.4l1 3.6l1 -4.1l1 3.5l1 -3.5l1 3.2l1 -3.6l1 3.2l1 -4l1 3.8l1 -4.4l1 3.6l1 -4.6l1 3.5l1 -4.4l1 3.5l1 -4.5l1 3.7l1 -4l1 3.2l1 -4.4l1 3.7l1 -4.3l1 3.4l1 -3.4l1 2.3l1 -2.4l1 2.3l1 -2.9l1 3.6l1 -5.4l1 5.2l1 -4.7l1 4.1l1 -3.5l1 2.5l1 -3l1 3.8l1 -4.4l1 3.9l1 -5.1l1 5.2l1 -4.5l1 3.6l1 -4.1l1 3.5l1 -3.6l1 4.6l1 -5.4l1 4.6l1 -5.1l1 4.9l1 -5.4l1 5.2l1 -4.6l1 3.4l1 -3.8l1 3.6l1 -3.6l1 2.7l1 -2.7l1 2l1 -3.4l1 4.1l1 -4.2l1 2.6l1 -3.3l1 3.2l1 -5.2l1 4.4l1 -6l1 4.6l1 -5.4l1 2.8l1 -5l1 3.4l1 -5.1l1 3.6l1 -4.6l1 2.5l1 -3.9l1 2.5l1 -4.4l1 2.6l1 -4.4l1 2.7l1 -4.2l1 3l1 -5.3l1 4.5l1 -5.8l1 4.3l1 -5.7l1 4.1l1 -4.6l1 3.9l1 -5l1 3.2l1 -3.2l1 3l1 -4l1 3.2l1 -4l1 3.5l1 -4.8l1 4.6l1 -5.5l1 4.8l1 -5.3l1 3.9l1 -4.2l1 3.5l1 -4.7l1 4.8l1 -4.9l1 4l1 -4l1 3.7l1 -3l1 3l1 -2.5l1 3l1 -3l1 3.3l1 -3.3l1 4.2l1 -3.4l1 4.3l1 -3.9l1 4.6l1 -4.4l1 5.1l1 -3.7l1 3.7l1 -2.9l1 3.7l1 -2.6l1 4.4l1 -3.5l1 4.1l1 -2.8l1 4.2l1 -3l1 3.5l1 -3.4l1 4.9l1 -3.8l1 4.2l1 -3l1 4.6l1 -4.9l1 5.6l1 -4.2l1 4.6l1 -3.5l1 3.7l1 -3.4l1 4.9l1 -5l1 4.3l1 -3l1 3.8l1 -3.9l1 4.8l1 -4l1 4.2l1 -3.7l1 3.7l1 -2.4l1 3.1l1 -3.5l1 3.9l1 -2.8l1 3.2l1 -3l1 3.7l1 -3.1l1 3.6l1 -2.2l1 3.3l1 -2.3l1 3.8l1 -2.7l1 4.9l1 -3.4l1 5.1l1 -3.8l1 4.7l1 -2.1l1 4.3l1 -3.5l1 4.4l1 -3.8l1 4.8l1 -4.2l1 5.5l1 -4.4l1 4.2l1 -3l1 4.9l1 -5l1 6l1 -5.6l1 6l1 -4.7l1 5.2l1 -4.6l1 4.7l1 -3.2l1 3.8l1 -2.5l1 3.1l1 -2.6l1 3.7l1 -4.1l1 5.9l1 -5.1l1 4.3l1 -2l1 3.3l1 -3.4l1 4l1 -3.6l1 4.9l1 -3.4l1 3.3l1 -3.1l1 3.5l1 -2.8l1 3.6l1 -3.3l1 3.5l1 -3.6l1 5l1 -3.9l1 4.5l1 -4.4l1 3.8l1 -2.3l1 2.7l1 -2.9l1 3.1l1 -3.2l1 3.8l1 -3.9l1 4.1l1 -3.9l1 4.2l1 -4.8l1 3.8l1 -3.5l1 3.2l1 -3.7l1 4.1l1 -4.7l1 4.6l1 -5.1l1 4.6l1 -5l1 4.8l1 -5.3l1 5.1l1 -5.3l1 4.6l1 -4l1 2.7l1 -2.9l1 3.2l1 -4.1l1 4.3l1 -5.3l1 5.1l1 -5.3l1 4.1l1 -4l1 2.7l1 -3.4l1 3.4l1 -4.1l1 3.4l1 -3.2l1 2.5l1 -4.2l1 5.3l1 -4.2l1 2.6l1 -2.7l1 3l1 -3.5l1 3.7l1 -4.3l1 4.1l1 -4.1l1 3.9l1 -4.4l1 5l1 -5l1 3.5l1 -2.8l1 2.7l1 -2.7l1 2.9l1 -3.2l1 3.1l1 -3.4l1 3.5l1 -3.6l1 4.7l1 -5.4l1 4.8l1 -4.6l1 4.8l1 -4l1 3.6l1 -3.5l1 3l1 -3.2l1 3.9l1 -4.4l1 4.4l1 -4.5l1 4.5l1 -4.2" fill="none" stroke="#f24040" stroke-width="8.2" stroke-linejoin="round" stroke-linecap="butt"/>
<path d="M211.0 748.2l1 -4.2l1 8.9l1 -5l1 12.2l1 -7.3l1 13.7l1 -8l1 12.5l1 -4.1l1 11.1l1 -5.8l1 12.4l1 -6.9l1 11l1 -8.2l1 14.1l1 -9.9l1 12.7l1 -7.2l1 12.2l1 -10.6l1 13.5l1 -7.1l1 8.1l1 -4.3l1 7l1 -4.3l1 8.5l1 -6.1l1 10.5l1 -9.1l1 12.6l1 -8.4l1 10l1 -7.5l1 11.4l1 -8.2l1 11.5l1 -10.4l1 13l1 -9l1 10.9l1 -6.9l1 7.6l1 -6.4l1 10.4l1 -7.8l1 9.3l1 -8.4l1 11.2l1 -10.2l1 12l1 -6.8l1 7.2l1 -6.2l1 9.3l1 -7.5l1 8.2l1 -4.5l1 9.3l1 -10.2l1 11.4l1 -8l1 9.1l1 -6.4l1 6.6l1 -4.3l1 6.1l1 -4.9l1 8.6l1 -8l1 8.5l1 -7.4l1 9.8l1 -7.9l1 9.1l1 -8.1l1 11.3l1 -11.4l1 12.8l1 -10.2l1 11.1l1 -7.8l1 6.8l1 -4.9l1 6.3l1 -4.9l1 6.7l1 -6.4l1 9.4l1 -9.8l1 11.9l1 -8.9l1 7.7l1 -5.5l1 6.5l1 -5.5l1 8.2l1 -7.9l1 9.3l1 -8l1 9.8l1 -6.9l1 6.7l1 -5.2l1 5.7l1 -4.3l1 6.5l1 -6.3l1 7.6l1 -6.4l1 7l1 -5.9l1 7.7l1 -7.4l1 9.9l1 -8.3l1 10.2l1 -10.3l1 9.5l1 -5.8l1 7.5l1 -8l1 10.1l1 -8.8l1 9.7l1 -8.5l1 8.5l1 -5.4l1 7.6l1 -7.3l1 8.8l1 -10.1l1 12.1l1 -10.7l1 12.4l1 -10.8l1 10.2l1 -7.3l1 9.6l1 -9.4l1 11l1 -8.8l1 7.9l1 -7.9l1 10.3l1 -9l1 8.2l1 -6.4l1 9.8l1 -10.2l1 9.9l1 -6.4l1 5.7l1 -5.3l1 6.7l1 -5.8l1 8.6l1 -8.7l1 8l1 -6.2l1 7l1 -6.4l1 7.6l1 -7.7l1 9.8l1 -9.2l1 8.8l1 -6.3l1 7.4l1 -6.1l1 7.2l1 -8.9l1 10.8l1 -6.8l1 6l1 -5.5l1 6.1l1 -5l1 7.3l1 -9.4l1 11.5l1 -11l1 11.9l1 -10.4l1 10.6l1 -9.5l1 9.4l1 -8.6l1 11.2l1 -10.6l1 11.5l1 -9.7l1 8.3l1 -6.2l1 6.3l1 -5.4l1 7.3l1 -7.4l1 8.1l1 -6.5l1 7.2l1 -7.4l1 10.2l1 -9l1 8.7l1 -7.9l1 7.4l1 -4.6l1 6.7l1 -7.7l1 9.8l1 -9l1 10.2l1 -7.7l1 5.6l1 -5.2l1 9.3l1 -10.9l1 8.6l1 -5l1 5.8l1 -6.8l1 9.8l1 -8l1 7.6l1 -7.7l1 8.7l1 -7.6l1 6.5l1 -5.4l1 6.3l1 -5.3l1 6.2l1 -6.1l1 7.3l1 -6.5l1 8.5l1 -9.4l1 9.9l1 -9.5l1 10.9l1 -10.2l1 9.6l1 -7.3l1 6.7l1 -6.5l1 7.9l1 -7l1 7.9l1 -7.1l1 6.8l1 -5.5l1 5.6l1 -5.6l1 7.1l1 -6.4l1 7.6l1 -8.2l1 7.9l1 -6.1l1 6.4l1 -5.5l1 5.7l1 -5l1 5.6l1 -4.6l1 6l1 -6.4l1 6.8l1 -7.2l1 8.1l1 -6.7l1 6.8l1 -5.5l1 4.7l1 -3.8l1 5.9l1 -6.8l1 8.5l1 -9.9l1 11l1 -9.4l1 7.9l1 -6.7l1 7.1l1 -7.1l1 7.7l1 -7.1l1 7.4l1 -6.3l1 6.7l1 -7.2l1 7.7l1 -5.4l1 5.5l1 -4.8l1 6.7l1 -7.9l1 7.8l1 -6.9l1 7.4l1 -6.6l1 7.8l1 -6.1l1 4.8l1 -4.2l1 5.3l1 -6l1 5.8l1 -4.5l1 5l1 -4.3l1 5.2l1 -6l1 7.3l1 -7.3l1 7.5l1 -7.1l1 7.4l1 -6.8l1 7.1l1 -6l1 5.7l1 -6.9l1 8.1l1 -8.1l1 8.4l1 -7.7l1 7.3l1 -6.1l1 6.6l1 -5.9l1 5.3l1 -5.4l1 6.6l1 -7l1 6.4l1 -4.9l1 5l1 -4.7l1 5.1l1 -3.8l1 3.9l1 -4.9l1 7l1 -6.9l1 5.6l1 -3.8l1 4.9l1 -5l1 5.4l1 -4.9l1 5.8l1 -5.9l1 5.7l1 -5.2l1 6.3l1 -6.1l1 5.5l1 -3.9l1 4.4l1 -4.7l1 5.4l1 -4.8l1 5l1 -4.8l1 4.7l1 -3.8l1 4.2l1 -4.5l1 4.8l1 -4.6l1 4.9l1 -4.3l1 3.8l1 -3.2l1 3.2l1 -3.1l1 3.8l1 -3.6l1 3.8l1 -4.6l1 5l1 -5.6l1 6.6l1 -6.4l1 5.4l1 -3.9l1 5.3l1 -6.2l1 5.4l1 -5.3l1 6.2l1 -5.5l1 3.8l1 -3.7l1 4.8l1 -5.9l1 5.1l1 -4.5l1 4.6l1 -4.9l1 5.1l1 -5.1l1 5.5l1 -5.5l1 4.9l1 -4.9l1 4.8l1 -4.9l1 4.8l1 -4.1l1 3.6l1 -3.5l1 3.2l1 -3.3l1 4.7l1 -6l1 5.1l1 -4.5l1 4.5l1 -3.9l1 2.9l1 -4.2l1 5.3l1 -5.4l1 5.4l1 -5.1l1 4.2l1 -3.7l1 3.7l1 -4.5l1 5.2l1 -5.5l1 6.3l1 -6.7l1 5.3l1 -4.3l1 4.8l1 -5.2l1 5.4l1 -4.3l1 3l1 -2.9l1 3l1 -3l1 3.6l1 -3.7l1 3.2l1 -2.8l1 2.9l1 -4.4l1 6.1l1 -4.6l1 3.1l1 -3.1l1 3.7l1 -4.2l1 4l1 -2.9l1 2.7l1 -2.4l1 2.3l1 -3.3l1 4.5l1 -4.5l1 4.1l1 -4.4l1 3.9l1 -4.3l1 3.6l1 -4.9l1 4.8l1 -5.3l1 3.9l1 -5.2l1 4.5l1 -4.8l1 4l1 -5.3l1 4.2l1 -4.9l1 3.9l1 -4.3l1 2l1 -3.6l1 2.5l1 -4.1l1 3.3l1 -5l1 3.5l1 -4.8l1 3l1 -4.7l1 3l1 -4.8l1 3.3l1 -5.4l1 2.8l1 -4.6l1 2.2l1 -5.3l1 2.8l1 -5.7l1 2.1l1 -4.9l1 2.3l1 -6.1l1 2.2l1 -4.1l1 0.8l1 -6l1 3.3l1 -6.8l1 2l1 -6.6l1 1.6l1 -6.9l1 0.9l1 -6.8l1 0.2l1 -6.7l1 -0.6l1 -8.1l1 1.2l1 -9.3l1 -0.1l1 -8.9l1 -0.7l1 -9.2l1 -0.1l1 -7.5l1 -1.7l1 -8.5l1 -2.9l1 -15l1 -13.8l1 -23.2l1 -13.1l1 -17.9l1 -9.4l1 -14.9l1 -4.6l1 -14.1l1 -6.7l1 -23.9l1 -18.7l1 -20l1 -9.3l1 -17.2l1 -8.1l1 -19.7l1 -31.6l1 -29.4l1 -14.3l1 -24.9l1 -19.2l1 -25.7l1 -17.2l1 -23l1 -13.8l1 -14.5l1 -6.5l1 -10.8l1 -1.3l1 -6.1l1 1.4l1 -4.6l1 3.6l1 -2.8l1 9.5l1 14.8l1 35.2l1 26l1 24.2l1 6.9l1 17l1 13.4l1 43.5l1 31.2l1 33.7l1 23.6l1 24.7l1 14.1l1 23.2l1 15.7l1 23.7l1 17.6l1 23.3l1 15.7l1 25.8l1 8l1 12.3l1 6.1l1 11l1 5.3l1 11.5l1 2.7l1 11.5l1 3.3l1 11.5l1 2.2l1 10l1 0.2l1 8.3l1 -1.2l1 7.9l1 -0.5l1 5.9l1 0l1 4.8l1 -0.9l1 5.9l1 -2.6l1 7.3l1 -3.5l1 6.6l1 -2.7l1 5.6l1 -3.6l1 5.3l1 -4.1l1 5.9l1 -4.4l1 5.1l1 -4.7l1 4.4l1 -2.9l1 4.1l1 -4.7l1 5l1 -5.8l1 4l1 -5.5l1 3.7l1 -6.3l1 3l1 -3.7l1 2.6l1 -6.5l1 3.5l1 -6.5l1 2.2l1 -6.7l1 1.9l1 -6.5l1 1.2l1 -5l1 1.5l1 -7.9l1 2.1l1 -7.4l1 1.2l1 -6.6l1 -0.4l1 -6.2l1 -0.2l1 -6.1l1 0.2l1 -7.8l1 0.2l1 -7.3l1 -0.6l1 -6.5l1 0.3l1 -6.2l1 1.6l1 -7.5l1 1.7l1 -6.6l1 1.8l1 -5.3l1 3.9l1 -3.4l1 4.1l1 -1.3l1 6.2l1 -2.6l1 7.3l1 -1.2l1 6.5l1 -1.2l1 7.1l1 0l1 6.8l1 1.2l1 7.3l1 0l1 7.9l1 0.6l1 7.8l1 -0.4l1 10l1 0l1 7.2l1 1.4l1 7.8l1 0l1 8.7l1 0.1l1 7.6l1 -1.1l1 8.4l1 -2.2l1 7.5l1 -2.3l1 6.8l1 -2.1l1 6.5l1 -3.1l1 6.9l1 -3.6l1 5.4l1 -2.1l1 3.8l1 -1.4l1 3.6l1 -1.8l1 4.4l1 -3.2l1 4.6l1 -4.2l1 6.2l1 -4.9l1 5.3l1 -4.3l1 5l1 -5.2l1 5.6l1 -5.1l1 6.2l1 -5.2l1 5l1 -3.9l1 4l1 -3.7l1 3.5l1 -2.8l1 4.4l1 -5l1 4.6l1 -4.3l1 4.8l1 -5.2l1 6l1 -5.7l1 5.4l1 -4.2l1 4.4l1 -4.6l1 5.2l1 -4.6l1 3.5l1 -3.4l1 3.4l1 -2.9l1 3.7l1 -3.7l1 3.2l1 -2.9l1 2.8l1 -3.9l1 5.1l1 -4.4l1 4.9l1 -5l1 4.9l1 -4.9l1 3.9l1 -3.1l1 3.3l1 -3.8l1 4.3l1 -3.5l1 2.5l1 -2.2l1 2.6l1 -2.7l1 3.1l1 -3.6l1 3.7l1 -4l1 4.3l1 -4.4l1 4.1l1 -4.4l1 4l1 -3l1 3.1l1 -3.2l1 3.5l1 -3.9l1 4.1l1 -3.3l1 2.5l1 -2.3l1 3.3l1 -4.1l1 4l1 -4.1l1 3.8l1 -3.7l1 3.9l1 -5.2l1 6.2l1 -6.1l1 4.6l1 -3.7l1 4.6l1 -5.1l1 5l1 -4.6l1 4l1 -3.9l1 3.7l1 -3.8l1 3.2l1 -2.7l1 3.4l1 -4.3l1 4.1l1 -4l1 3.5l1 -3.4l1 3.2l1 -3.2l1 3.4l1 -3.9l1 3.8l1 -3.7l1 3.8l1 -4.1l1 3.6l1 -3.9l1 4.3l1 -5l1 4.2l1 -3.2l1 3.2l1 -3.4l1 3l1 -3.5l1 4.3l1 -3.5l1 2.5l1 -2.8l1 3l1 -3.4l1 4.3l1 -5.1l1 4.4l1 -4.5l1 4.9l1 -5.1l1 4.9l1 -4.8l1 3.8l1 -3.3l1 3.2l1 -3.4l1 3.7l1 -3.8l1 3.8l1 -4.5l1 5l1 -5.3l1 4l1 -3.2l1 4.3l1 -5.1l1 4.8l1 -4.3l1 4.1l1 -4.6l1 4.6l1 -4.5l1 4.4l1 -4.3l1 4.9l1 -5.8l1 5.6l1 -5.1l1 4.6l1 -3.9l1 3.3l1 -3.3l1 3.1l1 -3.3l1 3.3l1 -3.8l1 3.9l1 -3.4l1 2.7l1 -4.1l1 5.3l1 -5.1l1 3.8l1 -3.2l1 3.2l1 -3.3l1 3.1l1 -4l1 5.1l1 -5.3l1 4.5l1 -4.5l1 4.8l1 -4.7l1 3.3l1 -2.7l1 2.4l1 -3.7l1 4.2l1 -3.9l1 3.5l1 -4l1 4.7l1 -5.7l1 5.4l1 -5.4l1 4.9l1 -5.3l1 4l1 -4.5l1 5.2l1 -6l1 5l1 -5.2l1 3.5l1 -3l1 2.6l1 -4l1 4.4l1 -5.2l1 5.1l1 -6.1l1 4.1l1 -3.3l1 3.4l1 -4.3l1 3.4l1 -3.7l1 2.5l1 -3.6l1 3.2l1 -4.1l1 3.1l1 -4.7l1 3.6l1 -4.3l1 3l1 -5.5l1 4.9l1 -5l1 2.6l1 -4.5l1 3.4l1 -5.9l1 3.1l1 -3.3l1 1.6l1 -4.1l1 2.9l1 -5.4l1 4l1 -6.2l1 3.6l1 -5.9l1 3l1 -6.5l1 3.5l1 -6l1 2.1l1 -5.8l1 2.1l1 -6.2l1 2.3l1 -6.4l1 2l1 -6.3l1 1.6l1 -6.7l1 1.3l1 -7.7l1 1.1l1 -8.1l1 -0.1l1 -7.2l1 -0.5l1 -8.7l1 -1l1 -9.2l1 -2.1l1 -10.5l1 -1.9l1 -10.7l1 -2.4l1 -11.5l1 -2.2l1 -12.2l1 -3.2l1 -12.2l1 -2.7l1 -12.7l1 -2.1l1 -13.4l1 -3.6l1 -10.2l1 -3.8l1 -12.4l1 -2.6l1 -11.8l1 -2l1 -11.6l1 -2.7l1 -9.5l1 -2.2l1 -8.3l1 -0.6l1 -9.6l1 3.7l1 -4.1l1 7.7l1 -0.1l1 8.4l1 1.7l1 8.8l1 2.3l1 8.4l1 3.2l1 9.1l1 4.2l1 10.4l1 3.4l1 10.4l1 3.7l1 10.8l1 4.5l1 10.4l1 5.4l1 10.1l1 4.5l1 10.6l1 4.9l1 10.3l1 4.9l1 10.6l1 3.4l1 11.5l1 3l1 12l1 2.4l1 11.7l1 1.3l1 10.5l1 0.6l1 9.5l1 1.5l1 8.1l1 0.3l1 8.1l1 -0.8l1 7.1l1 -0.7l1 5.4l1 -0.2l1 5.7l1 -2l1 6.2l1 -2.1l1 5.2l1 -2.6l1 5l1 -3.1l1 6l1 -4.5l1 4.9l1 -2.6l1 3.9l1 -1.9l1 3.2l1 -2.6l1 4.2l1 -2.8l1 3.2l1 -2.1l1 4.4l1 -5.3l1 5.9l1 -5.1l1 5.3l1 -3.6l1 3.2l1 -3.3l1 4.1l1 -3.7l1 4.5l1 -4.5l1 3.8l1 -2.3l1 2.5l1 -3.7l1 4.7l1 -3.7l1 3.8l1 -3.6l1 3.1l1 -2.8l1 3.9l1 -4.6l1 4.8l1 -4.5l1 4l1 -3.8l1 3.9l1 -3.7l1 3.1l1 -2.8l1 3.7l1 -4.9l1 5.2l1 -4.1l1 3.1l1 -3.7l1 3.9l1 -4.4l1 4.3l1 -4.9l1 3.6l1 -3.5l1 3.2l1 -4.6l1 4.5l1 -5.7l1 5.3l1 -6.1l1 4.4l1 -5.1l1 3.9l1 -3.9l1 2.9l1 -4.8l1 5.4l1 -5.7l1 4.6l1 -5.7l1 4.7l1 -6l1 5.2l1 -6.2l1 5.1l1 -5.4l1 3.8l1 -4.2l1 2.4l1 -3.3l1 2.6l1 -4.1l1 3.2l1 -4.5l1 3.1l1 -3.9l1 3.3l1 -4.8l1 4.2l1 -4.7l1 4.2l1 -5.1l1 3.7l1 -3.6l1 2.7l1 -4.7l1 4.5l1 -4l1 2.5l1 -3.5l1 2.8l1 -4.3l1 3.7l1 -5.3l1 4.4l1 -5.2l1 3.9l1 -4.6l1 1.9l1 -3.7l1 2.8l1 -5.7l1 4l1 -6.2l1 3.4l1 -5.2l1 2.1l1 -4.9l1 1.8l1 -5.3l1 2.1l1 -7l1 0.8l1 -5.2l1 -0.2l1 -5.8l1 0.6l1 -7.1l1 0.3l1 -7.1l1 0.3l1 -8.7l1 -0.1l1 -7.2l1 -1.2l1 -7.8l1 -1.8l1 -8.6l1 -1.1l1 -9l1 -1l1 -8.3l1 -2l1 -8l1 -2.4l1 -8l1 -0.3l1 -7.6l1 0.6l1 -7.3l1 1l1 -6.7l1 2.3l1 -6.8l1 3.1l1 -5.8l1 3.5l1 -5.8l1 3.6l1 -4.9l1 3.5l1 -2.8l1 4.4l1 -1.3l1 4.9l1 -0.8l1 6.3l1 -1l1 5.7l1 0.1l1 6.7l1 1l1 8.7l1 0.3l1 9.6l1 0.9l1 7.9l1 0.9l1 9.6l1 -0.4l1 9.2l1 0.9l1 9.6l1 0.2l1 9.5l1 0.9l1 8.9l1 0.4l1 9.5l1 -0.8l1 8.7l1 -0.9l1 8.6l1 -1.7l1 7.6l1 -2.1l1 7l1 -1.6l1 5.2l1 -1.2l1 4.7l1 -1.8l1 4.4l1 -3.1l1 4.3l1 -3.8l1 4.3l1 -3.9l1 5.1l1 -4.8l1 4.9l1 -3.6l1 3.6l1 -4l1 4.1l1 -3.5l1 2.2l1 -3.7l1 2.7l1 -4.3l1 2.6l1 -3.6l1 2.4l1 -3.4l1 3.2l1 -4.6l1 5.5l1 -4.1l1 4.8l1 -4.2l1 5.4l1 -2.9l1 4.1l1 -2.6l1 4.6l1 -2.4l1 4l1 -2l1 5.7l1 -2.2l1 6.6l1 -3.3l1 5.9l1 -1l1 4.6l1 -2.3l1 5.7l1 -3.7l1 5.2l1 -2.8l1 5.3l1 -4.4l1 5.5l1 -3.8l1 5.6l1 -3.1l1 4l1 -3.6l1 5.9l1 -5l1 5.8l1 -4.9l1 5l1 -2.3l1 3l1 -2.2l1 3.8l1 -2.5l1 2.8l1 -2.1l1 3.4l1 -3.6l1 5.3l1 -4.7l1 4.8l1 -4.6l1 4.8l1 -4l1 4.5l1 -4.2l1 4.1l1 -3.6l1 3.2l1 -2.8l1 3l1 -2.6l1 2.9l1 -3.1l1 4.2l1 -4.2l1 4l1 -3.4l1 4.1l1 -4.9l1 4.9l1 -4.3l1 4.9l1 -4.8l1 4.4l1 -4.6l1 3.9l1 -2.7l1 3.8l1 -4.3l1 4.4l1 -4.5l1 4.7l1 -4.8l1 5l1 -4.8l1 4.5l1 -3.9l1 4l1 -4.3l1 4.4l1 -4.5l1 4.9l1 -5.4l1 5.8l1 -5.4l1 3.8l1 -2.3l1 2.8l1 -2.8l1 2.8l1 -3.9l1 4.8l1 -4.5l1 4.3l1 -4.3l1 3.6l1 -2.6l1 2.9l1 -3.2l1 3.4l1 -3.9l1 4.5l1 -4.3l1 4.1l1 -4.1l1 4.4l1 -5l1 5.4l1 -5.3l1 5.2l1 -4.4l1 3.3l1 -4.2l1 5.1l1 -5.5l1 4.5l1 -3.7l1 4.3l1 -4.8l1 4.2l1 -3.9l1 3.3l1 -2.9l1 2.5l1 -3l1 3.1l1 -3.4l1 3.7l1 -4.2l1 4.5l1 -5.4l1 5.6l1 -4.5l1 3.4l1 -3.6l1 4l1 -4.5l1 4.8l1 -5.3l1 5.2l1 -5.2l1 4.7l1 -3.7l1 3.3l1 -3.4l1 3.8l1 -4.6l1 4.3l1 -4l1 3.9l1 -3.1l1 2.6l1 -3.3l1 3.8l1 -4.1l1 4.7l1 -5.4l1 4.7l1 -4.1l1 4.3l1 -4.7l1 4.5l1 -4.4l1 4.4l1 -4.3l1 4.3l1 -5.5l1 4.5l1 -3.9l1 3.9l1 -3.5l1 2.6l1 -3.1l1 3.1l1 -3.6l1 3l1 -2.7l1 3.2l1 -4.2l1 3.6l1 -4.9l1 4.8l1 -4.3l1 3.6l1 -3.8l1 3.1l1 -4.1l1 4.6l1 -5.1l1 4.4l1 -5.2l1 4l1 -4.2l1 2.9l1 -3.3l1 3.5l1 -5.4l1 4.6l1 -5l1 4.1l1 -4.4l1 2.6l1 -3.2l1 2.3l1 -3.2l1 2.6l1 -3.7l1 3.9l1 -5.6l1 5l1 -5.6l1 4.3l1 -6.1l1 5.3l1 -6.1l1 4.6l1 -5.2l1 4.3l1 -4.5l1 3.6l1 -5l1 5l1 -5l1 3.1l1 -3.3l1 3.4l1 -4.5l1 3.7l1 -4.6l1 4.2l1 -5l1 4.5l1 -4.7l1 4.6l1 -5.1l1 5l1 -5.4l1 3.6l1 -2.7l1 2.5l1 -2.7l1 2.7l1 -3.1l1 3.5l1 -3.8l1 4.6l1 -5.1l1 4.6l1 -3.6l1 3.6l1 -4.8l1 5.3l1 -5.1l1 5.2l1 -5.3l1 5.5l1 -4.1l1 5.4l1 -5.2l1 6.2l1 -4.5l1 5.6l1 -3.7l1 3.9l1 -2.6l1 5.2l1 -4.8l1 5.4l1 -3.8l1 5.2l1 -4.5l1 5.9l1 -3.2l1 3.4l1 -2l1 3.3l1 -2.5l1 4.2l1 -3.5l1 4.4l1 -3.4l1 5.1l1 -4.8l1 5.4l1 -4.9l1 4.6l1 -2.4l1 3.2l1 -2.7l1 3.3l1 -3l1 3.9l1 -3.2l1 3.7l1 -3.6l1 3.4l1 -3.1l1 3.8l1 -4l1 4l1 -3.9l1 3.6l1 -4.7l1 5.4l1 -5.3l1 4.8l1 -4.8l1 4.5l1 -4.1l1 4l1 -3.6l1 3.3l1 -4l1 3.7l1 -3.8l1 4.3l1 -4.5l1 4.9l1 -5.6l1 5.3l1 -4.6l1 3.6l1 -3.4l1 3.1l1 -3.2l1 3l1 -3l1 2.7l1 -2.6l1 2.7l1 -3.6l1 3.9l1 -3.2l1 3l1 -3.3l1 3.8l1 -4.8l1 4.7l1 -4.3l1 4l1 -4.4l1 4.7l1 -4.7l1 4.8l1 -5.3l1 3.9l1 -2.7l1 2.8l1 -3.5l1 3.6l1 -4.9l1 5.1l1 -3.9l1 2.7l1 -3l1 2.6l1 -2.9l1 2.5l1 -3.1l1 2.6l1 -3.3l1 3.4l1 -4.5l1 4.5l1 -5.1l1 4.5l1 -5l1 4l1 -3.8l1 2.8l1 -4.2l1 3.7l1 -4.1l1 3.4l1 -4.3l1 3.7l1 -5.1l1 3.6l1 -4.6l1 3.6l1 -5l1 3.2l1 -5.1l1 4.6l1 -5.7l1 3.3l1 -4.9l1 3l1 -5.8l1 3.8l1 -5.7l1 2.1l1 -4.5l1 1.9l1 -4.7l1 2.8l1 -6l1 2.1l1 -3.8l1 0.9l1 -5.2l1 3.3l1 -6l1 2.8l1 -5.5l1 1.9l1 -4.3l1 2.8l1 -6l1 3.6l1 -4.9l1 2.5l1 -4.3l1 2.3l1 -4l1 3.3l1 -5.7l1 4.4l1 -6.2l1 4.7l1 -4.9l1 2.4l1 -3.6l1 2.5l1 -3.2l1 3.8l1 -5.1l1 5.5l1 -4.1l1 5.9l1 -4.3l1 5.9l1 -3.6l1 5.5l1 -3.8l1 4.7l1 -2.3l1 3.9l1 -2l1 3.7l1 -2.1l1 4.1l1 -3.6l1 6.4l1 -4.2l1 5.3l1 -4.8l1 4.9l1 -2.1l1 3.3l1 -2.9l1 4.3l1 -4l1 5.1l1 -4.7l1 5.8l1 -5.3l1 5.2l1 -3.7l1 4.1l1 -3l1 2.6l1 -2.9l1 4.3l1 -4.3l1 4.8l1 -4.3l1 3.9l1 -2.5l1 2.8l1 -3.6l1 5l1 -4l1 3.5l1 -2.9l1 2.8l1 -2.2l1 3.7l1 -4.7l1 5l1 -3.4l1 3l1 -2.9l1 4.2l1 -3.3l1 5l1 -4.5l1 4.9l1 -3.4l1 5l1 -3.5l1 4l1 -3l1 5.3l1 -4l1 4.7l1 -2.8l1 3.9l1 -2.4l1 4.1l1 -3.3l1 5.4l1 -3.5l1 4l1 -2.3l1 3.6l1 -2.2l1 3.8l1 -3l1 4.5l1 -2.3l1 3.2l1 -2.7l1 5.5l1 -4.2l1 4.6l1 -2.1l1 3.7l1 -2.9l1 4.1l1 -3.8l1 5.8l1 -3.6l1 3.3l1 -2.4l1 3.4l1 -2.8l1 4.5l1 -4.9l1 5.4l1 -4l1 4.3l1 -2.9l1 3l1 -2.3l1 2.9l1 -2.8l1 3.6l1 -4.2l1 5l1 -4.3l1 4.3l1 -3.1l1 2.7l1 -2.5l1 3.4l1 -3.7l1 3.8l1 -3.2l1 3.8l1 -4.2l1 4l1 -3.7l1 4.2l1 -4.6l1 5l1 -4.9l1 5.1l1 -5l1 5.3l1 -5.3l1 4.3l1 -3.7l1 3.6l1 -3.6l1 3.8l1 -4.7l1 4.6l1 -5.1l1 5.5l1 -5.1l1 4l1 -3.8l1 3.5l1 -3.8l1 4.4l1 -4.5l1 3.5l1 -3.1l1 2.8l1 -3.6l1 4.2l1 -3.8l1 3.8l1 -4.1l1 4.4l1 -5.1l1 3.8l1 -2.7l1 2.7l1 -2.5l1 2.3l1 -3.2l1 3.8l1 -3.5l1 3.7l1 -4l1 3.6l1 -3.8l1 4l1 -4.4l1 4.8l1 -3.7l1 2.3l1 -2.5l1 4.2l1 -5.3l1 5.3l1 -5.4l1 5l1 -5l1 5.5l1 -4.6l1 3.4l1 -3.4l1 4.2l1 -5l1 4.7l1 -4.3l1 4.4l1 -4.1l1 4.2" fill="none" stroke="#1967de" stroke-width="8.2" stroke-linejoin="round" stroke-linecap="butt"/>
<path d="M211.0 516.7l1 -4.7l1 9.4l1 -3.9l1 8.4l1 -4.1l1 8.9l1 -4.1l1 11.6l1 -8.7l1 12.7l1 -8.1l1 12.6l1 -6.2l1 7.6l1 -4.2l1 9.2l1 -5.1l1 9.5l1 -6.8l1 11.3l1 -7.3l1 11.4l1 -7.6l1 10l1 -5.9l1 9.3l1 -6.4l1 11.4l1 -8l1 10.4l1 -7.2l1 10.2l1 -8.1l1 12.7l1 -6.9l1 8.4l1 -6.1l1 8.4l1 -4.4l1 7.7l1 -5.1l1 7.2l1 -4.7l1 7.2l1 -7.7l1 13l1 -10.6l1 11.2l1 -7.3l1 8.6l1 -4.8l1 7.2l1 -5.5l1 6.7l1 -7.1l1 10.8l1 -9.6l1 10.2l1 -6.4l1 7.3l1 -5.4l1 6.6l1 -6.4l1 9.2l1 -6.8l1 7.4l1 -5.6l1 6.8l1 -4.9l1 6.4l1 -4.9l1 6l1 -4.2l1 5.7l1 -6l1 10.6l1 -9.3l1 9.2l1 -6.6l1 8.3l1 -5.3l1 7l1 -6.4l1 9.1l1 -8l1 11l1 -8.3l1 7.8l1 -5.3l1 7.3l1 -5.7l1 6.7l1 -6.8l1 10l1 -7.1l1 7.6l1 -6.7l1 8.7l1 -9.6l1 10.1l1 -7.4l1 8.4l1 -9.5l1 12.4l1 -8.4l1 7.1l1 -5.2l1 6l1 -5.1l1 6.6l1 -5.7l1 6.5l1 -7.5l1 11.9l1 -10.7l1 10.6l1 -9.6l1 10.2l1 -8.7l1 8.7l1 -6.4l1 7.1l1 -5.4l1 6l1 -4.6l1 5.7l1 -5.3l1 8.4l1 -9.7l1 9.8l1 -7.8l1 9.1l1 -9.4l1 11l1 -7.3l1 5.4l1 -4.3l1 7.7l1 -8.9l1 8.1l1 -4.9l1 6.1l1 -7.7l1 10.7l1 -7.7l1 7.2l1 -5.3l1 6.4l1 -5.5l1 7.4l1 -7.8l1 9.3l1 -7.8l1 8.4l1 -6.6l1 7.3l1 -6.1l1 8.2l1 -8l1 10.1l1 -10.3l1 11.1l1 -7.4l1 6.5l1 -5.5l1 6.7l1 -6.2l1 8.8l1 -9.9l1 8.9l1 -5.2l1 6.1l1 -7.2l1 10.8l1 -10.2l1 11.5l1 -10l1 11.5l1 -11.2l1 10.4l1 -8.2l1 9.4l1 -7.7l1 7.9l1 -6.1l1 6.6l1 -5.4l1 6.9l1 -6.8l1 6.9l1 -5.7l1 6.5l1 -6.2l1 8.6l1 -6.4l1 5.3l1 -4.4l1 7.3l1 -8.8l1 10.1l1 -9.4l1 11.5l1 -8.6l1 6.1l1 -7.2l1 9.9l1 -9.1l1 10l1 -9.2l1 8.1l1 -6l1 6.9l1 -8.3l1 10.4l1 -8.5l1 9.6l1 -9.2l1 9.8l1 -8.9l1 8.2l1 -6.3l1 7.2l1 -7.5l1 9.4l1 -8.6l1 9.4l1 -8.9l1 9.4l1 -8.7l1 8.9l1 -7.8l1 8l1 -6.2l1 6l1 -6.9l1 8.8l1 -7.5l1 8l1 -7.5l1 9.5l1 -9.1l1 9.9l1 -8.5l1 7.4l1 -7.5l1 9l1 -8.2l1 8.5l1 -8.1l1 7.6l1 -5.5l1 5.6l1 -7l1 9.9l1 -8.1l1 8l1 -7.3l1 7.8l1 -7.7l1 7.6l1 -6.7l1 7.6l1 -5.5l1 4.5l1 -4.4l1 5.3l1 -4.5l1 6.5l1 -7l1 7.4l1 -6.9l1 6.6l1 -6.3l1 6.9l1 -5.5l1 5.7l1 -4.9l1 6.5l1 -7.5l1 7.7l1 -6.7l1 7.6l1 -7.7l1 7.9l1 -7.1l1 8.3l1 -7.7l1 8.3l1 -8.6l1 8.5l1 -7.5l1 7.7l1 -7.1l1 7.4l1 -7.3l1 8.2l1 -7.7l1 6.6l1 -4.8l1 6.9l1 -7.8l1 7.6l1 -6l1 5.9l1 -6.9l1 7.5l1 -7l1 7l1 -5.4l1 7.4l1 -8.4l1 8.5l1 -6.9l1 5.8l1 -6.2l1 7.9l1 -8.2l1 9l1 -8l1 8l1 -7.6l1 8.5l1 -8.1l1 7.5l1 -5.7l1 5.2l1 -5.3l1 5.7l1 -4.8l1 7.2l1 -8.4l1 8.6l1 -6.2l1 4.5l1 -6.4l1 8.7l1 -8.3l1 6.8l1 -4.5l1 5.5l1 -6.1l1 6.7l1 -5.8l1 6.2l1 -6.7l1 6.7l1 -6.3l1 5.6l1 -3.4l1 4.4l1 -5.1l1 5.6l1 -5.8l1 6.8l1 -7.1l1 7.8l1 -6.9l1 6l1 -5.3l1 6l1 -5.7l1 6.1l1 -5.5l1 4.8l1 -4.6l1 4.9l1 -4.3l1 5.6l1 -5.7l1 4.8l1 -4.6l1 5.3l1 -5.9l1 6.9l1 -6.9l1 7.1l1 -6.1l1 4.6l1 -2.9l1 3.9l1 -4.5l1 5.2l1 -4.4l1 3.9l1 -4.8l1 5.8l1 -5.2l1 6l1 -6.5l1 5l1 -3.8l1 3.7l1 -3.7l1 3.9l1 -4.3l1 4.4l1 -4.4l1 4.4l1 -4.5l1 4.6l1 -4.3l1 4.2l1 -4.5l1 4.8l1 -5.3l1 5.6l1 -5.8l1 5.2l1 -4.2l1 4.6l1 -5.1l1 4.7l1 -3.6l1 3.5l1 -4l1 4l1 -4.1l1 4.4l1 -4.4l1 5l1 -5.9l1 6.3l1 -5.8l1 5.4l1 -4.7l1 3.2l1 -3.5l1 4.6l1 -5.8l1 5.8l1 -5.3l1 5.2l1 -5.6l1 5.8l1 -5.8l1 5.6l1 -5.8l1 4.3l1 -2.9l1 3l1 -3.8l1 3.8l1 -3.3l1 3l1 -4l1 5l1 -5.2l1 5.1l1 -5.2l1 4.2l1 -3.4l1 3.1l1 -3.7l1 4l1 -3.4l1 2.8l1 -3l1 3.5l1 -3.9l1 3l1 -2.9l1 2.7l1 -2.8l1 2.9l1 -3.7l1 4.1l1 -4.3l1 4.8l1 -6.3l1 5.9l1 -5.3l1 4.7l1 -5.3l1 4.4l1 -4.7l1 3.8l1 -4.4l1 3.1l1 -3l1 3.8l1 -5.7l1 4.8l1 -5.5l1 4.8l1 -5.4l1 4l1 -5l1 3.5l1 -3.9l1 3.2l1 -4.5l1 3.3l1 -4.5l1 2.6l1 -3.8l1 2.4l1 -4.1l1 3.1l1 -5.2l1 3.8l1 -5.7l1 4l1 -5.5l1 2.7l1 -5.1l1 3.5l1 -5.9l1 2.5l1 -4.2l1 2.8l1 -7.5l1 3.5l1 -6l1 2.1l1 -5.7l1 0.3l1 -5.2l1 0.6l1 -6.4l1 0.3l1 -7.2l1 0.5l1 -7.3l1 0.2l1 -7.7l1 1.1l1 -8.6l1 0.6l1 -8.2l1 -0.6l1 -7.9l1 -1.1l1 -9.1l1 -1.4l1 -11l1 -4.7l1 -11.9l1 -5.2l1 -12.9l1 -7.4l1 -18.5l1 -10.7l1 -20.3l1 -11.3l1 -17.1l1 -6.5l1 -16.1l1 -6l1 -19.9l1 -11.6l1 -25.7l1 -18.2l1 -32.6l1 -26.6l1 -28.2l1 -20.2l1 -25.6l1 -19.2l1 -28.1l1 -10.5l1 -13.8l1 -6.7l1 -14l1 -7l1 -17.6l1 -6.5l1 -7.6l1 0.5l1 -6.5l1 5.6l1 0.1l1 11.3l1 26.3l1 19.9l1 7.7l1 16.5l1 10.8l1 19l1 19.1l1 38.4l1 16.8l1 23.2l1 14.1l1 22.5l1 19.6l1 46.9l1 21.4l1 20.4l1 12.4l1 30.5l1 37.6l1 21.7l1 4.1l1 8.6l1 4.3l1 15.6l1 5l1 13.6l1 2.2l1 12.2l1 2.6l1 10.7l1 2l1 10.8l1 1.2l1 7l1 0.3l1 6.7l1 -1.1l1 6.6l1 -0.9l1 5.7l1 -1.6l1 7.5l1 -2.1l1 5l1 -0.9l1 4.4l1 -0.8l1 3.6l1 -0.8l1 3.6l1 -2.3l1 5.1l1 -3.5l1 5.1l1 -5.2l1 4.3l1 -3.6l1 3.2l1 -3.4l1 2.6l1 -4.4l1 5.4l1 -5.6l1 4.7l1 -6.7l1 3.1l1 -4.4l1 1.2l1 -4.5l1 1.1l1 -5.6l1 2.5l1 -5.8l1 1.4l1 -5.6l1 0.7l1 -5.4l1 0.9l1 -7l1 1.7l1 -7.8l1 2.7l1 -7.4l1 -0.1l1 -6.8l1 0.4l1 -7.4l1 1l1 -7.6l1 0.8l1 -7.4l1 0.3l1 -7.6l1 0.2l1 -6.1l1 1.6l1 -6.4l1 1.2l1 -4.7l1 1l1 -5.5l1 4.2l1 -4.3l1 3.5l1 -2.3l1 4.6l1 -1.2l1 5l1 -0.9l1 5.2l1 -1.2l1 8.2l1 -1.2l1 8.3l1 0.1l1 8l1 1.1l1 8.6l1 -0.6l1 9.7l1 0.2l1 9.3l1 0.7l1 8.6l1 1.4l1 8.3l1 0.3l1 7.5l1 -0.3l1 7.1l1 0l1 5.8l1 -1l1 7.2l1 -2.4l1 6.7l1 -2.8l1 6.9l1 -3.2l1 6.7l1 -2.8l1 5.2l1 -3.2l1 6.5l1 -4.1l1 5.8l1 -3.6l1 4.5l1 -1.6l1 3.4l1 -2.2l1 3.3l1 -2.8l1 4l1 -3.2l1 4.3l1 -3.7l1 3.6l1 -2.8l1 3.5l1 -3.3l1 4.4l1 -4.7l1 5.6l1 -5.1l1 4.5l1 -4.2l1 4.9l1 -4.2l1 4.3l1 -3.9l1 3.5l1 -3.1l1 3l1 -2.8l1 3.4l1 -3.7l1 3.5l1 -3.4l1 3.8l1 -4.4l1 4.8l1 -5.2l1 5.9l1 -5.7l1 4.9l1 -3.9l1 3.1l1 -2.3l1 2.5l1 -3.8l1 4.9l1 -3.6l1 2.5l1 -2.4l1 2.6l1 -2.8l1 3.8l1 -4.9l1 5.4l1 -5.6l1 5.9l1 -4.7l1 3l1 -3l1 3.4l1 -3.2l1 4l1 -5.5l1 5.8l1 -5.1l1 4l1 -4.7l1 5.3l1 -4.6l1 4.8l1 -5.1l1 3.6l1 -2.6l1 2.6l1 -3.2l1 4.2l1 -4.9l1 5l1 -4.7l1 4.8l1 -4.6l1 4.3l1 -4.2l1 4.4l1 -4.1l1 3.7l1 -4.1l1 4l1 -3.9l1 4.3l1 -4.8l1 3.9l1 -2.8l1 2.4l1 -3.2l1 4.1l1 -4.2l1 4.2l1 -4.4l1 3.7l1 -2.6l1 3.3l1 -4.1l1 4.1l1 -4.2l1 3.7l1 -3.4l1 3.3l1 -3l1 3.7l1 -4.7l1 4.3l1 -3.9l1 3.7l1 -4.7l1 5.4l1 -3.8l1 2.9l1 -3.1l1 3.4l1 -3.7l1 3l1 -2.6l1 2.8l1 -3.8l1 4.9l1 -5.2l1 4.9l1 -4.3l1 4.3l1 -4.8l1 4.4l1 -3.9l1 3.8l1 -4.2l1 4.8l1 -3.8l1 2.7l1 -2.8l1 3.2l1 -3.4l1 3l1 -3l1 2.8l1 -3.1l1 3.4l1 -3.5l1 3.8l1 -3.9l1 3.4l1 -2.7l1 3.4l1 -4.4l1 4.3l1 -4.7l1 5l1 -4.3l1 3.5l1 -3.5l1 4.1l1 -4.6l1 4.2l1 -3.6l1 3.2l1 -3.5l1 3.8l1 -3.1l1 2.7l1 -3l1 4.3l1 -5.9l1 4.6l1 -3.2l1 2.7l1 -3.4l1 4.1l1 -3.4l1 2.9l1 -3.1l1 3l1 -3.2l1 3.9l1 -4.5l1 4l1 -5l1 5.6l1 -4.3l1 3l1 -3.3l1 3.5l1 -4.8l1 5.4l1 -5.5l1 4.9l1 -4.5l1 4l1 -3.9l1 2.5l1 -2.5l1 3l1 -3.9l1 3.4l1 -4.1l1 3.9l1 -3.6l1 3.3l1 -3.9l1 3.6l1 -3.8l1 3.6l1 -4.3l1 2.6l1 -2.7l1 2.3l1 -4l1 4.3l1 -4.4l1 3.1l1 -3.9l1 2.6l1 -3.1l1 2.3l1 -2.9l1 2.2l1 -3.6l1 2.9l1 -4l1 3l1 -3.9l1 4.1l1 -6l1 4.3l1 -5.2l1 3.8l1 -4.8l1 3.5l1 -5.3l1 4.2l1 -5.3l1 3.6l1 -5.1l1 3.3l1 -4.7l1 3l1 -4.3l1 2.2l1 -5.4l1 4.1l1 -6.2l1 3.3l1 -4l1 1.5l1 -4l1 1.2l1 -5l1 3.6l1 -6l1 2.2l1 -5.6l1 2.6l1 -6l1 1.6l1 -4.7l1 0.4l1 -5.9l1 2.3l1 -6.9l1 0.5l1 -6.8l1 -0.3l1 -7.2l1 -1.9l1 -8l1 -3l1 -8.3l1 -3.7l1 -9.4l1 -3.9l1 -11l1 -5.1l1 -10.6l1 -4.9l1 -11.2l1 -3.5l1 -11l1 -3.9l1 -11l1 -4.2l1 -10.8l1 -3.9l1 -12l1 -3.5l1 -11.7l1 -3.3l1 -10.9l1 -3.9l1 -10.8l1 -1.7l1 -11.6l1 -1.4l1 -7.3l1 -0.6l1 -7.2l1 0.6l1 -6.1l1 4.1l1 -3.2l1 8.4l1 -0.4l1 9.5l1 3l1 10.6l1 1.2l1 13.3l1 4.8l1 12.7l1 5.6l1 13.5l1 4.9l1 13.4l1 5.6l1 12.8l1 6.4l1 12.4l1 6.3l1 13.7l1 6.3l1 11.3l1 5.6l1 10.7l1 3.2l1 11.4l1 2.1l1 10.8l1 1.3l1 9.2l1 1.6l1 8.9l1 1.3l1 7.6l1 0.9l1 7l1 0.9l1 5.4l1 -0.8l1 6l1 -1.7l1 5.3l1 -1.5l1 5.1l1 -1.9l1 6l1 -4.2l1 6.7l1 -4.8l1 6.6l1 -3.6l1 3.4l1 -1.9l1 3.3l1 -2.1l1 4.3l1 -4.5l1 5.8l1 -3.2l1 2.6l1 -2.1l1 3.1l1 -2.2l1 4.2l1 -5.2l1 5.9l1 -4.7l1 5.2l1 -3.8l1 3.5l1 -3.5l1 4.3l1 -3.8l1 4.1l1 -3.8l1 3.9l1 -3.3l1 3.8l1 -2.9l1 2.4l1 -2.7l1 3.6l1 -3.5l1 4.8l1 -5.9l1 4.4l1 -2.8l1 2.7l1 -2.4l1 2.7l1 -4.2l1 5.9l1 -6.1l1 5.4l1 -4.7l1 4.9l1 -4.8l1 4.7l1 -4.3l1 4.3l1 -4.4l1 3.7l1 -3.8l1 3.3l1 -3.7l1 4.2l1 -5.6l1 4.8l1 -6l1 5.5l1 -4.8l1 2.4l1 -3.2l1 3.6l1 -5.3l1 4.6l1 -5.4l1 4.5l1 -4.5l1 2.7l1 -3.8l1 3.2l1 -4.3l1 4l1 -5.6l1 3.6l1 -3.1l1 2l1 -3.7l1 3.6l1 -4l1 2.1l1 -3l1 3.2l1 -5.9l1 4.3l1 -4.8l1 3.7l1 -3.8l1 2l1 -2.9l1 1.8l1 -2.8l1 1.9l1 -3.4l1 3l1 -5l1 4.1l1 -5.1l1 4.4l1 -4.5l1 2.3l1 -3.7l1 2.7l1 -4.3l1 2.7l1 -4.1l1 2.7l1 -4.5l1 4.2l1 -5.2l1 2.9l1 -4.4l1 2.3l1 -3.5l1 2.1l1 -4.8l1 2.8l1 -5.2l1 3.8l1 -5.1l1 1.2l1 -4.3l1 1.7l1 -6.7l1 2l1 -5.3l1 0.6l1 -6.1l1 1.5l1 -8l1 1.3l1 -8.7l1 1.4l1 -8.7l1 -0.5l1 -7.1l1 -1.1l1 -9l1 0.7l1 -10.7l1 0.4l1 -10.1l1 0.2l1 -9.7l1 -0.3l1 -10.4l1 0.4l1 -9.4l1 -0.3l1 -8.6l1 1.5l1 -8.6l1 0.7l1 -6l1 0.8l1 -6.5l1 1.9l1 -5.5l1 1.1l1 -4.9l1 2.5l1 -4.7l1 3l1 -2.2l1 5.1l1 -3.7l1 7.2l1 -1.5l1 5.7l1 -0.9l1 7.1l1 -1.7l1 7.8l1 -0.4l1 8.4l1 -0.6l1 10l1 0.6l1 7.2l1 1l1 10l1 0.6l1 10.4l1 0.5l1 9l1 2.1l1 8.2l1 1.6l1 9.3l1 1l1 7.9l1 0.5l1 7.5l1 0l1 7.6l1 -1.3l1 7.8l1 -0.9l1 5.1l1 -0.9l1 6l1 -1.4l1 5.4l1 -1.5l1 4.6l1 -4l1 4.8l1 -4l1 4.3l1 -3.7l1 3.2l1 -2.8l1 3.1l1 -2.7l1 2.8l1 -2.9l1 3.2l1 -3.6l1 3l1 -4.6l1 5.2l1 -5.7l1 3.7l1 -3.3l1 3.5l1 -4.4l1 3.9l1 -3.3l1 2.4l1 -2.3l1 3.4l1 -2.1l1 4.8l1 -3.8l1 5.8l1 -3.6l1 6.3l1 -3.2l1 4.7l1 -2.6l1 5.1l1 -2.9l1 5.9l1 -3l1 6.4l1 -4l1 6.1l1 -3.4l1 5.2l1 -3.3l1 5.6l1 -3.5l1 5.1l1 -2.7l1 5.1l1 -3.9l1 5.5l1 -2.6l1 3.3l1 -2.5l1 5l1 -3.7l1 4l1 -2.1l1 4l1 -3.6l1 4.3l1 -2.7l1 3.3l1 -2.7l1 3.5l1 -2.4l1 3.1l1 -2.5l1 4l1 -3.9l1 4.2l1 -2.9l1 2.4l1 -2l1 2.5l1 -2.3l1 3.7l1 -4.4l1 4.9l1 -5.3l1 5.6l1 -5.3l1 5.1l1 -3.9l1 3.2l1 -2.7l1 2.8l1 -2.5l1 3.6l1 -4.2l1 4.2l1 -3.6l1 3.3l1 -3.9l1 4.6l1 -4.2l1 4.1l1 -3.3l1 3.2l1 -2.6l1 2.8l1 -3.4l1 4.3l1 -4.1l1 4.3l1 -3.9l1 3.9l1 -3.7l1 3.2l1 -2.5l1 2.9l1 -3.1l1 3.9l1 -4.9l1 5.2l1 -4.9l1 5.6l1 -5.1l1 4.6l1 -4.1l1 4l1 -4.4l1 4.6l1 -4.4l1 4.2l1 -4.3l1 3.6l1 -2.9l1 4l1 -4.8l1 4.4l1 -4.4l1 4.4l1 -4.9l1 5.6l1 -5.8l1 5l1 -4.5l1 3.6l1 -2.5l1 2.4l1 -3.5l1 4.5l1 -3.8l1 2.8l1 -2.6l1 2.7l1 -2.6l1 2.9l1 -3.3l1 3l1 -2.7l1 2.7l1 -3.3l1 3.7l1 -4l1 4.2l1 -4.4l1 4.1l1 -3.9l1 4.3l1 -4.1l1 3.8l1 -3.5l1 2.8l1 -2.9l1 3.6l1 -4.3l1 3.7l1 -3.1l1 2.7l1 -4l1 5.3l1 -4.1l1 2.8l1 -3l1 3.5l1 -4.2l1 3.8l1 -3.1l1 2.8l1 -2.7l1 2.6l1 -2.6l1 2.3l1 -2.7l1 4l1 -4.9l1 4.4l1 -4.6l1 4.2l1 -4l1 3.9l1 -4.4l1 5l1 -5l1 5l1 -5.3l1 4.6l1 -4.4l1 4.1l1 -4.1l1 2.9l1 -3.7l1 4.2l1 -4.5l1 4.9l1 -5.5l1 4.5l1 -4.7l1 4.7l1 -5.3l1 4.6l1 -4.6l1 4.1l1 -4.9l1 3.8l1 -3.4l1 3l1 -3.3l1 2.5l1 -3.1l1 2.2l1 -3.1l1 2.6l1 -3l1 2.8l1 -4.3l1 3.7l1 -5l1 4.4l1 -4.5l1 3.3l1 -4.9l1 4.8l1 -6.3l1 5l1 -5.1l1 4.2l1 -4.9l1 3.8l1 -4.8l1 4.2l1 -5.4l1 4.9l1 -5.9l1 3.7l1 -3.8l1 2.5l1 -2.9l1 2.2l1 -4.1l1 4.3l1 -5.1l1 4.5l1 -4.9l1 3.3l1 -3.1l1 2.7l1 -3.1l1 2.3l1 -2.9l1 2.6l1 -3.7l1 3.4l1 -3.7l1 3.1l1 -3.1l1 3.7l1 -4.9l1 5l1 -4.8l1 4.1l1 -3.7l1 4.1l1 -4.1l1 4.1l1 -4.4l1 4.2l1 -4.4l1 4.5l1 -4.2l1 4.2l1 -4.8l1 5.5l1 -5.4l1 4.4l1 -2.8l1 4.1l1 -3.9l1 5.1l1 -4.7l1 6l1 -4.2l1 4.5l1 -3.4l1 5l1 -4.5l1 4.9l1 -3.4l1 4.9l1 -4.3l1 6.4l1 -4.6l1 5.3l1 -3.9l1 5.6l1 -4.3l1 4.8l1 -3.4l1 4.7l1 -4.2l1 5.6l1 -3.8l1 3.4l1 -2.7l1 3.6l1 -3l1 3.6l1 -3.1l1 4l1 -3.3l1 3.8l1 -2.9l1 2.7l1 -2.4l1 3.5l1 -4.6l1 4.7l1 -4.4l1 4.8l1 -4.9l1 5l1 -4l1 2.5l1 -2.8l1 3.5l1 -3.9l1 4.3l1 -5.2l1 5.2l1 -5.2l1 4.5l1 -5.1l1 5.4l1 -5.3l1 4.6l1 -4.3l1 5.1l1 -5.7l1 5.2l1 -5.2l1 4.7l1 -4l1 3.2l1 -3.3l1 4.2l1 -5.5l1 5.4l1 -5.7l1 5.9l1 -4.8l1 3.7l1 -3.5l1 2.5l1 -2.8l1 3.1l1 -4.1l1 4.6l1 -5.4l1 5.7l1 -5.3l1 4.6l1 -5.3l1 5l1 -5.6l1 5.3l1 -4.6l1 3.8l1 -3.8l1 3.5l1 -3.8l1 4l1 -4.1l1 3.2l1 -3.8l1 3.6l1 -3.4l1 2.8l1 -3.2l1 3.1l1 -3.2l1 2.4l1 -4.1l1 4.6l1 -5l1 4.1l1 -4.7l1 3.8l1 -3.9l1 2.9l1 -4.2l1 4.3l1 -4.6l1 2.5l1 -3.6l1 3l1 -4.6l1 3.6l1 -5.2l1 3.4l1 -4.3l1 2.5l1 -4.7l1 4.4l1 -6l1 4.4l1 -6.6l1 4.5l1 -5.6l1 3.9l1 -5.7l1 3l1 -5.6l1 3.9l1 -6.3l1 4.1l1 -6.6l1 4.1l1 -6.1l1 3.9l1 -5.3l1 1.8l1 -5.3l1 3.7l1 -6.3l1 3.6l1 -6.3l1 3.6l1 -5.2l1 3.3l1 -5.4l1 3l1 -5.4l1 4l1 -6.6l1 3.1l1 -3.3l1 2.3l1 -5l1 3.6l1 -4.6l1 2.4l1 -4.3l1 3.9l1 -4.7l1 3.7l1 -3.6l1 4.6l1 -4l1 5.3l1 -3.8l1 5.5l1 -3l1 3.5l1 -1.5l1 3.3l1 -1.9l1 4.4l1 -3.3l1 5.1l1 -3.7l1 5.6l1 -3.7l1 5.5l1 -3.6l1 3.9l1 -1.5l1 4.1l1 -4.4l1 5.4l1 -4.4l1 5.5l1 -3.7l1 3.9l1 -3l1 3.9l1 -2.9l1 3.9l1 -3.7l1 4.8l1 -3.9l1 3.7l1 -3.5l1 4.2l1 -3.7l1 3.4l1 -2.4l1 4.1l1 -5.3l1 5.6l1 -4.5l1 4.2l1 -4.1l1 3.5l1 -3.2l1 4.1l1 -3.9l1 4.5l1 -5.3l1 5.8l1 -5.3l1 4.9l1 -3.3l1 2.9l1 -2.4l1 4.5l1 -4.2l1 4.2l1 -2.8l1 3.8l1 -2.9l1 4.3l1 -2.6l1 3.5l1 -2.2l1 4.3l1 -4.1l1 4.5l1 -1.7l1 3.1l1 -2.5l1 5.6l1 -3.4l1 4.5l1 -2.7l1 4.7l1 -3.1l1 4.7l1 -3.9l1 5.7l1 -4.2l1 5.4l1 -4.4l1 6.5l1 -5l1 5.3l1 -3.2l1 5.3l1 -4.4l1 5.9l1 -4.5l1 4.5l1 -2.7l1 3.1l1 -1.9l1 3.8l1 -3.4l1 4.6l1 -4.3l1 5.6l1 -5.2l1 5.8l1 -4.8l1 5.3l1 -4.4l1 4.3l1 -2.9l1 4.1l1 -5l1 5.7l1 -4.8l1 4.8l1 -3.7l1 3.3l1 -2.7l1 2.9l1 -2.6l1 3.2l1 -3.3l1 3.4l1 -4.5l1 5.9l1 -3.9l1 2.3l1 -2.1l1 3.8l1 -4.8l1 4.7l1 -5.1l1 5.2l1 -5.2l1 5.1l1 -5l1 4.5l1 -4.6l1 4.5l1 -4.1l1 3.2l1 -2.9l1 2.8l1 -3.2l1 3.3l1 -2.9l1 2.5l1 -2.9l1 3.9l1 -4.6l1 4.2l1 -4.7l1 4.9l1 -4.6l1 3.6l1 -3.6l1 3.6l1 -4.1l1 4l1 -3.9l1 4l1 -4.2l1 4.4l1 -4.5l1 4.2l1 -4.2l1 3.5l1 -3.5l1 3.4l1 -3.5l1 3l1 -2.7l1 2.5l1 -3.9l1 5.3l1 -4.2l1 2.8l1 -3.2l1 3.3l1 -3l1 4l1 -4.7l1 4.3l1 -3.6l1 3l1 -3.3l1 3.6l1 -3.7l1 4.2l1 -4.5l1 3.7l1 -3l1 3.1l1 -2.7l1 2.4" fill="none" stroke="#30ab62" stroke-width="8.2" stroke-linejoin="round" stroke-linecap="butt"/>
</g>
<g id="labels"><text class="b" x="324.4" y="1708.5" font-size="90" text-anchor="middle">10</text><text class="b" x="552.0" y="1708.5" font-size="90" text-anchor="middle">20</text><text class="b" x="779.5" y="1708.5" font-size="90" text-anchor="middle">30</text><text class="b" x="1007.1" y="1708.5" font-size="90" text-anchor="middle">40</text><text class="b" x="1234.7" y="1708.5" font-size="90" text-anchor="middle">50</text><text class="b" x="1462.2" y="1708.5" font-size="90" text-anchor="middle">60</text><text class="b" x="1689.8" y="1708.5" font-size="90" text-anchor="middle">70</text><text class="b" x="1917.4" y="1708.5" font-size="90" text-anchor="middle">80</text><text class="b" x="2145.0" y="1708.5" font-size="90" text-anchor="middle">90</text><text class="b" x="1194.4" y="1876.4" font-size="104.1" text-anchor="middle">2-Theta (degs)</text><text class="b" transform="translate(117.6,908.5) rotate(-90)" font-size="103.0" text-anchor="middle">Intensity (a.u)</text><text class="b" x="365.0" y="639.0" font-size="82.6">4CZ</text><text class="b" x="358.6" y="878.5" font-size="83.3">3CZ</text><text class="b" x="358.0" y="1076.3" font-size="79.3">2CZ</text><text class="b" x="355.3" y="1300.0" font-size="82.5">1CZ</text><text x="254.6" y="1517.0" font-size="81.3">ICSD:161650</text><text class="b p" transform="translate(672,302.2) rotate(-45)" font-size="73.0" text-anchor="middle" y="17.5">(1 1 1)</text><text class="b p" transform="translate(959,543.9) rotate(-45)" font-size="73.0" text-anchor="middle" y="17.5">(0 0 2)</text><text class="b p" transform="translate(1142.3,533.7) rotate(-45)" font-size="73.0" text-anchor="middle" y="17.5">(0 2 2)</text><text class="b p" transform="translate(1396.8,540.7) rotate(-45)" font-size="73.0" text-anchor="middle" y="17.5">(1 1 3)</text><text class="b p" transform="translate(1580.7,629.5) rotate(-45)" font-size="73.0" text-anchor="middle" y="17.5">(2 2 2)</text><text class="b p" transform="translate(1765.9,668.2) rotate(-45)" font-size="73.0" text-anchor="middle" y="17.5">(0 0 4)</text><text class="b p" transform="translate(1923.9,639.6) rotate(-45)" font-size="73.0" text-anchor="middle" y="17.5">(1 3 3)</text><text class="b p" transform="translate(2055.4,644.2) rotate(-45)" font-size="73.0" text-anchor="middle" y="17.5">(0 2 4)</text></g>
</svg></body></html>
